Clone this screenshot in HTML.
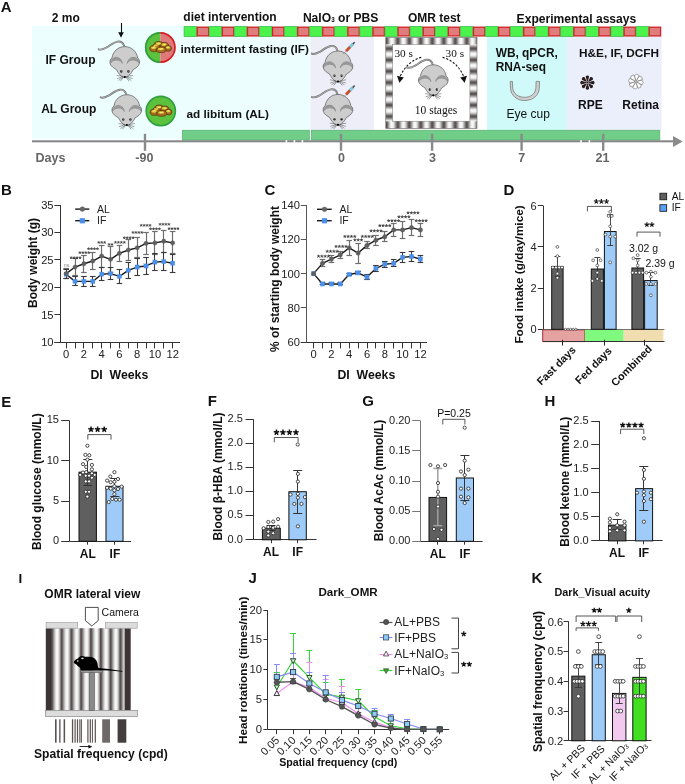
<!DOCTYPE html><html><head><meta charset="utf-8"><title>Figure</title><style>html,body{margin:0;padding:0;background:#fff;}svg{display:block;will-change:transform;}</style></head><body>
<svg width="685" height="784" viewBox="0 0 685 784" font-family="&quot;Liberation Sans&quot;, sans-serif">

<defs>
 <linearGradient id="cylV" x1="0" y1="0" x2="1" y2="0">
  <stop offset="0" stop-color="#4a4242"/>
  <stop offset="0.14" stop-color="#7e7878"/>
  <stop offset="0.36" stop-color="#e6e6e6"/>
  <stop offset="0.5" stop-color="#ffffff"/>
  <stop offset="0.66" stop-color="#e2e2e2"/>
  <stop offset="0.88" stop-color="#7e7878"/>
  <stop offset="1" stop-color="#4a4242"/>
 </linearGradient>
 <linearGradient id="cylH" x1="0" y1="0" x2="0" y2="1">
  <stop offset="0" stop-color="#4a4242"/>
  <stop offset="0.14" stop-color="#7e7878"/>
  <stop offset="0.36" stop-color="#e6e6e6"/>
  <stop offset="0.5" stop-color="#ffffff"/>
  <stop offset="0.66" stop-color="#e2e2e2"/>
  <stop offset="0.88" stop-color="#7e7878"/>
  <stop offset="1" stop-color="#4a4242"/>
 </linearGradient>
 <linearGradient id="drum" x1="0" y1="0" x2="1" y2="0">
  <stop offset="0" stop-color="#2e2626"/>
  <stop offset="0.05" stop-color="#5e5858"/>
  <stop offset="0.2" stop-color="#a09e9e"/>
  <stop offset="0.38" stop-color="#e4e4e4"/>
  <stop offset="0.52" stop-color="#ffffff"/>
  <stop offset="0.68" stop-color="#e6e6e6"/>
  <stop offset="0.88" stop-color="#8e8a8a"/>
  <stop offset="0.96" stop-color="#4a4444"/>
  <stop offset="1" stop-color="#2e2626"/>
 </linearGradient>
 <pattern id="pV" x="386.2" y="0" width="11.5" height="20" patternUnits="userSpaceOnUse">
  <rect x="0" y="0" width="11.5" height="20" fill="url(#cylV)"/>
 </pattern>
 <pattern id="pH" x="0" y="37.3" width="20" height="11.3" patternUnits="userSpaceOnUse">
  <rect x="0" y="0" width="20" height="11.3" fill="url(#cylH)"/>
 </pattern>
 <pattern id="pDrum" x="51.9" y="0" width="9.8" height="20" patternUnits="userSpaceOnUse">
  <rect x="0" y="0" width="9.8" height="20" fill="url(#drum)"/>
 </pattern>
 <g id="mouse">
  <path d="M3.6 11.2 C6 12.6 9 10.8 12 9.2 C15.5 7.2 18.6 4.2 22.6 3.6 C26 3.1 28.4 5.2 29.4 8.6" fill="none" stroke="#6a6a6a" stroke-width="1.9" stroke-linecap="round"/>
  <path d="M3.6 11.2 C6 12.6 9 10.8 12 9.2 C15.5 7.2 18.6 4.2 22.6 3.6 C26 3.1 28.4 5.2 29.4 8.6" fill="none" stroke="#cfcfcf" stroke-width="0.7" stroke-linecap="round"/>
  <path d="M29.8 8.6 C23 8.6 17.8 13.6 17 20 C15.2 21 14.6 23.4 15.2 25.6 C16 28.6 19 30.2 21.4 31.6 C23.4 35.6 26.4 39.2 29.8 39.6 C33.2 39.2 36.2 35.6 38.2 31.6 C40.6 30.2 43.6 28.6 44.4 25.6 C45 23.4 44.4 21 42.6 20 C41.8 13.6 36.6 8.6 29.8 8.6 Z" fill="#cdcdcd" stroke="#5e5e5e" stroke-width="0.75"/>
  <path d="M15.8 25.2 C16.4 21.6 18.6 19.8 21.4 19.8 C24.4 19.9 26.6 22.2 27.2 25.4 C26 23.6 24 22.4 21.6 22.4 C19 22.4 17 23.6 15.8 25.2 Z" fill="#979797"/>
  <path d="M43.8 25.2 C43.2 21.6 41 19.8 38.2 19.8 C35.2 19.9 33 22.2 32.4 25.4 C33.6 23.6 35.6 22.4 38 22.4 C40.6 22.4 42.6 23.6 43.8 25.2 Z" fill="#979797"/>
  <path d="M15.4 25.2 C15.8 21.4 18.4 19.4 21.4 19.4 C24.6 19.5 27 22 27.4 25.6" fill="none" stroke="#6a6a6a" stroke-width="0.6"/>
  <path d="M44.2 25.2 C43.8 21.4 41.2 19.4 38.2 19.4 C35 19.5 32.6 22 32.2 25.6" fill="none" stroke="#6a6a6a" stroke-width="0.6"/>
  <ellipse cx="26.3" cy="33.4" rx="1.1" ry="1.3" fill="#222"/>
  <ellipse cx="33.4" cy="33.4" rx="1.1" ry="1.3" fill="#222"/>
  <circle cx="26.6" cy="33" r="0.4" fill="#fff"/>
  <circle cx="33.7" cy="33" r="0.4" fill="#fff"/>
  <ellipse cx="29.8" cy="39" rx="1.2" ry="1" fill="#000"/>
  <g stroke="#555" stroke-width="0.55" fill="none">
   <path d="M28 38.4 L21.6 37.4 M28 38.8 L22 40.6 M28.4 39.2 L23.4 42.4 M28.6 39.4 L25.4 43.2"/>
   <path d="M31.6 38.4 L38 37.4 M31.6 38.8 L37.6 40.6 M31.2 39.2 L36.2 42.4 M31 39.4 L34.2 43.2"/>
  </g>
 </g>
 <g id="food">
  <ellipse cx="-6.5" cy="1.8" rx="4.4" ry="3.2" fill="#a86a20" stroke="#4a2c0a" stroke-width="0.6"/>
  <ellipse cx="-1.8" cy="-2.4" rx="4.4" ry="3.0" fill="#a86a20" stroke="#4a2c0a" stroke-width="0.6"/>
  <ellipse cx="3.8" cy="-1.4" rx="4.2" ry="3.0" fill="#a86a20" stroke="#4a2c0a" stroke-width="0.6"/>
  <ellipse cx="7.6" cy="1.6" rx="3.4" ry="2.9" fill="#a86a20" stroke="#4a2c0a" stroke-width="0.6"/>
  <ellipse cx="0.6" cy="3.0" rx="5.0" ry="2.9" fill="#a86a20" stroke="#4a2c0a" stroke-width="0.6"/>
  <ellipse cx="-4.5" cy="-0.5" rx="3.5" ry="2.5" fill="#a86a20" stroke="#4a2c0a" stroke-width="0.6"/>
  <ellipse cx="-6.9" cy="1.0" rx="2.69" ry="1.41" fill="#dccb38"/>
  <ellipse cx="-2.2" cy="-3.2" rx="2.69" ry="1.32" fill="#dccb38"/>
  <ellipse cx="3.4" cy="-2.2" rx="2.57" ry="1.32" fill="#dccb38"/>
  <ellipse cx="7.199999999999999" cy="0.8" rx="2.08" ry="1.27" fill="#dccb38"/>
  <ellipse cx="0.19999999999999996" cy="2.2" rx="3.06" ry="1.27" fill="#dccb38"/>
  <ellipse cx="-4.9" cy="-1.3" rx="2.14" ry="1.10" fill="#dccb38"/>
  <path d="M-8 0.8 L-5.6 -0.2 M-3 -2.8 L-0.6 -3.4 M2.6 -2 L5 -2.6 M-1 2.4 L2 1.8 M6.6 0.8 L8.6 0.4" stroke="#f8f29a" stroke-width="0.9"/>
 </g>
</defs>

<rect x="0.00" y="0.00" width="685.00" height="784.00" fill="#ffffff"/>
<text x="0.80" y="11.60" font-size="15" font-weight="bold" fill="#111">A</text>
<text x="51.80" y="22.40" font-size="12" font-weight="bold" fill="#111">2 mo</text>
<rect x="32.00" y="26.00" width="278.70" height="113.20" fill="#edfefe"/>
<rect x="310.70" y="36.60" width="63.10" height="93.80" fill="#eeeef9"/>
<rect x="486.90" y="36.60" width="79.90" height="93.80" fill="#d0fafa"/>
<rect x="566.80" y="36.60" width="94.70" height="93.80" fill="#ebeefb"/>
<rect x="184.10" y="26.60" width="12.56" height="9.90" fill="#4cf24c" stroke="#3ec04a" stroke-width="0.8"/>
<rect x="197.26" y="27.20" width="11.36" height="8.70" fill="#e07c7c" stroke="#d0222a" stroke-width="1.3"/>
<rect x="209.21" y="26.60" width="12.56" height="9.90" fill="#4cf24c" stroke="#3ec04a" stroke-width="0.8"/>
<rect x="222.37" y="27.20" width="11.36" height="8.70" fill="#e07c7c" stroke="#d0222a" stroke-width="1.3"/>
<rect x="234.32" y="26.60" width="12.56" height="9.90" fill="#4cf24c" stroke="#3ec04a" stroke-width="0.8"/>
<rect x="247.48" y="27.20" width="11.36" height="8.70" fill="#e07c7c" stroke="#d0222a" stroke-width="1.3"/>
<rect x="259.43" y="26.60" width="12.56" height="9.90" fill="#4cf24c" stroke="#3ec04a" stroke-width="0.8"/>
<rect x="272.59" y="27.20" width="11.36" height="8.70" fill="#e07c7c" stroke="#d0222a" stroke-width="1.3"/>
<rect x="284.54" y="26.60" width="12.56" height="9.90" fill="#4cf24c" stroke="#3ec04a" stroke-width="0.8"/>
<rect x="297.70" y="27.20" width="11.36" height="8.70" fill="#e07c7c" stroke="#d0222a" stroke-width="1.3"/>
<rect x="309.65" y="26.60" width="12.56" height="9.90" fill="#4cf24c" stroke="#3ec04a" stroke-width="0.8"/>
<rect x="322.81" y="27.20" width="11.36" height="8.70" fill="#e07c7c" stroke="#d0222a" stroke-width="1.3"/>
<rect x="334.76" y="26.60" width="12.56" height="9.90" fill="#4cf24c" stroke="#3ec04a" stroke-width="0.8"/>
<rect x="347.92" y="27.20" width="11.36" height="8.70" fill="#e07c7c" stroke="#d0222a" stroke-width="1.3"/>
<rect x="359.87" y="26.60" width="12.56" height="9.90" fill="#4cf24c" stroke="#3ec04a" stroke-width="0.8"/>
<rect x="373.03" y="27.20" width="11.36" height="8.70" fill="#e07c7c" stroke="#d0222a" stroke-width="1.3"/>
<rect x="384.98" y="26.60" width="12.56" height="9.90" fill="#4cf24c" stroke="#3ec04a" stroke-width="0.8"/>
<rect x="398.14" y="27.20" width="11.36" height="8.70" fill="#e07c7c" stroke="#d0222a" stroke-width="1.3"/>
<rect x="410.09" y="26.60" width="12.56" height="9.90" fill="#4cf24c" stroke="#3ec04a" stroke-width="0.8"/>
<rect x="423.25" y="27.20" width="11.36" height="8.70" fill="#e07c7c" stroke="#d0222a" stroke-width="1.3"/>
<rect x="435.21" y="26.60" width="12.56" height="9.90" fill="#4cf24c" stroke="#3ec04a" stroke-width="0.8"/>
<rect x="448.36" y="27.20" width="11.36" height="8.70" fill="#e07c7c" stroke="#d0222a" stroke-width="1.3"/>
<rect x="460.32" y="26.60" width="12.56" height="9.90" fill="#4cf24c" stroke="#3ec04a" stroke-width="0.8"/>
<rect x="473.47" y="27.20" width="11.36" height="8.70" fill="#e07c7c" stroke="#d0222a" stroke-width="1.3"/>
<rect x="485.43" y="26.60" width="12.56" height="9.90" fill="#4cf24c" stroke="#3ec04a" stroke-width="0.8"/>
<rect x="498.58" y="27.20" width="11.36" height="8.70" fill="#e07c7c" stroke="#d0222a" stroke-width="1.3"/>
<rect x="510.54" y="26.60" width="12.56" height="9.90" fill="#4cf24c" stroke="#3ec04a" stroke-width="0.8"/>
<rect x="523.69" y="27.20" width="11.36" height="8.70" fill="#e07c7c" stroke="#d0222a" stroke-width="1.3"/>
<rect x="535.65" y="26.60" width="12.56" height="9.90" fill="#4cf24c" stroke="#3ec04a" stroke-width="0.8"/>
<rect x="548.80" y="27.20" width="11.36" height="8.70" fill="#e07c7c" stroke="#d0222a" stroke-width="1.3"/>
<rect x="560.76" y="26.60" width="12.56" height="9.90" fill="#4cf24c" stroke="#3ec04a" stroke-width="0.8"/>
<rect x="573.91" y="27.20" width="11.36" height="8.70" fill="#e07c7c" stroke="#d0222a" stroke-width="1.3"/>
<rect x="585.87" y="26.60" width="12.56" height="9.90" fill="#4cf24c" stroke="#3ec04a" stroke-width="0.8"/>
<rect x="599.02" y="27.20" width="11.36" height="8.70" fill="#e07c7c" stroke="#d0222a" stroke-width="1.3"/>
<rect x="610.98" y="26.60" width="12.56" height="9.90" fill="#4cf24c" stroke="#3ec04a" stroke-width="0.8"/>
<rect x="624.13" y="27.20" width="11.36" height="8.70" fill="#e07c7c" stroke="#d0222a" stroke-width="1.3"/>
<rect x="636.09" y="26.60" width="12.56" height="9.90" fill="#4cf24c" stroke="#3ec04a" stroke-width="0.8"/>
<rect x="649.24" y="27.20" width="11.36" height="8.70" fill="#e07c7c" stroke="#d0222a" stroke-width="1.3"/>
<text x="183.30" y="20.80" font-size="12" font-weight="bold" fill="#111">diet intervention</text>
<text x="302.90" y="21.90" font-size="12.1" font-weight="bold" fill="#111">NaIO<tspan font-size="6.3">3</tspan> or PBS</text>
<text x="407.90" y="22.10" font-size="12" font-weight="bold" fill="#111">OMR test</text>
<text x="516.60" y="23.20" font-size="12.1" font-weight="bold" fill="#111">Experimental assays</text>
<line x1="121.50" y1="23.00" x2="121.50" y2="34.00" stroke="#111" stroke-width="1.1"/>
<path d="M118.2 32.2 L121 37.8 L123.8 32.2 Z" fill="#111"/>
<text x="45.50" y="64.20" font-size="12" font-weight="bold" fill="#111">IF Group</text>
<text x="41.20" y="112.80" font-size="12" font-weight="bold" fill="#111">AL Group</text>
<text x="180.50" y="53.00" font-size="11.8" font-weight="bold" fill="#111">intermittent fasting (IF)</text>
<text x="186.40" y="118.20" font-size="11.8" font-weight="bold" fill="#111">ad libitum (AL)</text>
<use href="#mouse" x="95" y="38"/>
<use href="#mouse" x="97" y="86.1"/>
<use href="#mouse" x="308.2" y="42.4"/>
<use href="#mouse" x="308.2" y="85.8"/>
<g><line x1="343.2" y1="54.00" x2="346.4" y2="50.80" stroke="#888" stroke-width="0.7"/><path d="M347.11 51.86 L350.91 47.86 L349.09 46.14 L345.29 50.14 Z" fill="#d44a1c" stroke="#7a3020" stroke-width="0.35"/><path d="M350.90 47.87 L353.80 44.87 L352.00 43.13 L349.10 46.13 Z" fill="#7cd0e0" stroke="#4a7a8a" stroke-width="0.35"/><path d="M353.41 44.48 L355.11 42.68 L354.09 41.72 L352.39 43.52 Z" fill="#3a3a4a"/></g>
<g><line x1="343.2" y1="97.40" x2="346.4" y2="94.20" stroke="#888" stroke-width="0.7"/><path d="M347.11 95.26 L350.91 91.26 L349.09 89.54 L345.29 93.54 Z" fill="#d44a1c" stroke="#7a3020" stroke-width="0.35"/><path d="M350.90 91.27 L353.80 88.27 L352.00 86.53 L349.10 89.53 Z" fill="#7cd0e0" stroke="#4a7a8a" stroke-width="0.35"/><path d="M353.41 87.88 L355.11 86.08 L354.09 85.12 L352.39 86.92 Z" fill="#3a3a4a"/></g>
<g><path d="M160.3 32.1 A15.4 15.4 0 0 0 160.3 62.9 Z" fill="#5cc23e"/><path d="M160.3 32.1 A15.4 15.4 0 0 1 160.3 62.9 Z" fill="#e07a7a"/><path d="M160.3 32.9 A14.6 14.6 0 0 0 160.3 62.1" fill="none" stroke="#2f9e3e" stroke-width="1.6"/><path d="M160.3 32.9 A14.6 14.6 0 0 1 160.3 62.1" fill="none" stroke="#d42026" stroke-width="1.6"/></g>
<use href="#food" x="160.6" y="46.8"/>
<circle cx="160.8" cy="111" r="14.6" fill="#5cc23e" stroke="#2f9e3e" stroke-width="1.6"/>
<use href="#food" x="161" y="110.4"/>
<rect x="385.50" y="37.30" width="91.70" height="91.30" fill="#ffffff"/>
<rect x="385.80" y="37.60" width="91.20" height="7.00" fill="url(#pV)"/>
<rect x="385.80" y="121.20" width="91.20" height="7.20" fill="url(#pV)"/>
<rect x="385.80" y="44.60" width="6.90" height="76.60" fill="url(#pH)"/>
<rect x="469.90" y="44.60" width="7.10" height="76.60" fill="url(#pH)"/>
<rect x="385.80" y="37.60" width="91.20" height="90.80" fill="none" stroke="#6a6262" stroke-width="0.6"/>
<rect x="392.70" y="44.60" width="77.20" height="76.60" fill="none" stroke="#777" stroke-width="0.5"/>
<text x="394.40" y="56.90" font-size="11.3" font-family='"Liberation Serif", serif' fill="#111">30 s</text>
<text x="445.60" y="56.90" font-size="11.3" font-family='"Liberation Serif", serif' fill="#111">30 s</text>
<text x="414.80" y="114.00" font-size="11.5" font-family='"Liberation Serif", serif' fill="#111">10 stages</text>
<use href="#mouse" x="403.5" y="56.2"/>
<path d="M421.2 57.4 C413 59.5 404.5 66 400.2 76.5" fill="none" stroke="#111" stroke-width="1.1" stroke-dasharray="2.2 1.6"/>
<path d="M397 75.8 L399.4 82.8 L403.8 77.4 Z" fill="#111"/>
<path d="M442.6 57.4 C451 59.5 459.5 66 463.6 76.5" fill="none" stroke="#111" stroke-width="1.1" stroke-dasharray="2.2 1.6"/>
<path d="M467 75.8 L464.6 82.8 L460.2 77.4 Z" fill="#111"/>
<text x="495.70" y="57.30" font-size="11.9" font-weight="bold" fill="#111">WB, qPCR,</text>
<text x="495.70" y="71.40" font-size="11.9" font-weight="bold" fill="#111">RNA-seq</text>
<path d="M510.2 81.4 L510.5 88.5 C511.1 95.5 517 100.5 524.5 100.5 C532.5 100.5 538.8 96 539.3 88 L539.5 81.4 L536.1 81.4 L535.9 88 C535.3 94 530.5 97.3 524.5 97.3 C518 97.3 513.3 93.5 512.7 88 L512.4 81.4 Z" fill="#cfcfcf" stroke="#7a7a7a" stroke-width="0.8"/>
<text x="506.60" y="117.50" font-size="12" fill="#111">Eye cup</text>
<text x="579.00" y="57.10" font-size="11.8" font-weight="bold" fill="#111">H&amp;E, IF, DCFH</text>
<g><path d="M-0.4 -1.3 L-1.8 -6.0 Q0 -8.4 1.8 -6.0 L0.4 -1.3 Z" transform="translate(587.4 82.6) rotate(0)" fill="#2a1c1c"/><path d="M-0.4 -1.3 L-1.8 -6.0 Q0 -8.4 1.8 -6.0 L0.4 -1.3 Z" transform="translate(587.4 82.6) rotate(45)" fill="#2a1c1c"/><path d="M-0.4 -1.3 L-1.8 -6.0 Q0 -8.4 1.8 -6.0 L0.4 -1.3 Z" transform="translate(587.4 82.6) rotate(90)" fill="#2a1c1c"/><path d="M-0.4 -1.3 L-1.8 -6.0 Q0 -8.4 1.8 -6.0 L0.4 -1.3 Z" transform="translate(587.4 82.6) rotate(135)" fill="#2a1c1c"/><path d="M-0.4 -1.3 L-1.8 -6.0 Q0 -8.4 1.8 -6.0 L0.4 -1.3 Z" transform="translate(587.4 82.6) rotate(180)" fill="#2a1c1c"/><path d="M-0.4 -1.3 L-1.8 -6.0 Q0 -8.4 1.8 -6.0 L0.4 -1.3 Z" transform="translate(587.4 82.6) rotate(225)" fill="#2a1c1c"/><path d="M-0.4 -1.3 L-1.8 -6.0 Q0 -8.4 1.8 -6.0 L0.4 -1.3 Z" transform="translate(587.4 82.6) rotate(270)" fill="#2a1c1c"/><path d="M-0.4 -1.3 L-1.8 -6.0 Q0 -8.4 1.8 -6.0 L0.4 -1.3 Z" transform="translate(587.4 82.6) rotate(315)" fill="#2a1c1c"/><circle cx="587.4" cy="82.6" r="1.0" fill="#2a1c1c"/></g>
<g><path d="M-0.4 -1.2 L-2.3 -5.8 Q-0.6 -8.6 2.3 -6.6 L0.6 -1.2 Z" transform="translate(635.9 81.6) rotate(8)" fill="#fff" stroke="#6a6a6a" stroke-width="0.55"/><path d="M-0.4 -1.2 L-2.3 -5.8 Q-0.6 -8.6 2.3 -6.6 L0.6 -1.2 Z" transform="translate(635.9 81.6) rotate(53)" fill="#fff" stroke="#6a6a6a" stroke-width="0.55"/><path d="M-0.4 -1.2 L-2.3 -5.8 Q-0.6 -8.6 2.3 -6.6 L0.6 -1.2 Z" transform="translate(635.9 81.6) rotate(98)" fill="#fff" stroke="#6a6a6a" stroke-width="0.55"/><path d="M-0.4 -1.2 L-2.3 -5.8 Q-0.6 -8.6 2.3 -6.6 L0.6 -1.2 Z" transform="translate(635.9 81.6) rotate(143)" fill="#fff" stroke="#6a6a6a" stroke-width="0.55"/><path d="M-0.4 -1.2 L-2.3 -5.8 Q-0.6 -8.6 2.3 -6.6 L0.6 -1.2 Z" transform="translate(635.9 81.6) rotate(188)" fill="#fff" stroke="#6a6a6a" stroke-width="0.55"/><path d="M-0.4 -1.2 L-2.3 -5.8 Q-0.6 -8.6 2.3 -6.6 L0.6 -1.2 Z" transform="translate(635.9 81.6) rotate(233)" fill="#fff" stroke="#6a6a6a" stroke-width="0.55"/><path d="M-0.4 -1.2 L-2.3 -5.8 Q-0.6 -8.6 2.3 -6.6 L0.6 -1.2 Z" transform="translate(635.9 81.6) rotate(278)" fill="#fff" stroke="#6a6a6a" stroke-width="0.55"/><path d="M-0.4 -1.2 L-2.3 -5.8 Q-0.6 -8.6 2.3 -6.6 L0.6 -1.2 Z" transform="translate(635.9 81.6) rotate(323)" fill="#fff" stroke="#6a6a6a" stroke-width="0.55"/><circle cx="635.9" cy="81.6" r="0.6" fill="#888"/></g>
<text x="578.00" y="108.70" font-size="12" font-weight="bold" fill="#111">RPE</text>
<text x="622.30" y="108.70" font-size="12" font-weight="bold" fill="#111">Retina</text>
<rect x="182.40" y="130.30" width="126.90" height="9.80" fill="#70ce88" stroke="#5cb676" stroke-width="0.8"/>
<rect x="311.50" y="130.30" width="348.30" height="9.80" fill="#70ce88" stroke="#5cb676" stroke-width="0.8"/>
<rect x="32.00" y="140.30" width="642.00" height="2.00" fill="#858585"/>
<path d="M673 136 L682.6 141.5 L673 147 Z" fill="#8a8a8a"/>
<rect x="285.60" y="140.20" width="1.60" height="2.60" fill="#ffffff"/>
<rect x="293.60" y="140.20" width="1.60" height="2.60" fill="#ffffff"/>
<rect x="301.60" y="140.20" width="1.60" height="2.60" fill="#ffffff"/>
<rect x="580.20" y="140.20" width="1.60" height="2.60" fill="#ffffff"/>
<rect x="588.60" y="140.20" width="1.60" height="2.60" fill="#ffffff"/>
<rect x="143.80" y="133.80" width="2.40" height="17.00" fill="#8a8a8a"/>
<rect x="339.80" y="133.80" width="2.40" height="17.00" fill="#8a8a8a"/>
<rect x="430.90" y="133.80" width="2.40" height="17.00" fill="#8a8a8a"/>
<rect x="520.40" y="133.80" width="2.40" height="17.00" fill="#8a8a8a"/>
<rect x="602.00" y="133.80" width="2.40" height="17.00" fill="#8a8a8a"/>
<text x="35.60" y="162.00" font-size="12.5" font-weight="bold" fill="#666">Days</text>
<text x="144.40" y="162.00" font-size="12.5" font-weight="bold" text-anchor="middle" fill="#666">-90</text>
<text x="341.60" y="162.00" font-size="12.5" font-weight="bold" text-anchor="middle" fill="#666">0</text>
<text x="432.40" y="162.00" font-size="12.5" font-weight="bold" text-anchor="middle" fill="#666">3</text>
<text x="521.80" y="162.00" font-size="12.5" font-weight="bold" text-anchor="middle" fill="#666">7</text>
<text x="602.40" y="162.00" font-size="12.5" font-weight="bold" text-anchor="middle" fill="#666">21</text>
<text x="1.00" y="195.10" font-size="15" font-weight="bold" fill="#111">B</text>
<line x1="60.50" y1="205.00" x2="60.50" y2="342.30" stroke="#333" stroke-width="1"/>
<line x1="54.40" y1="205.50" x2="60.40" y2="205.50" stroke="#333" stroke-width="1"/>
<text x="53.60" y="209.00" font-size="11.2" text-anchor="end" fill="#222">35</text>
<line x1="54.40" y1="232.50" x2="60.40" y2="232.50" stroke="#333" stroke-width="1"/>
<text x="53.60" y="236.46" font-size="11.2" text-anchor="end" fill="#222">30</text>
<line x1="54.40" y1="259.50" x2="60.40" y2="259.50" stroke="#333" stroke-width="1"/>
<text x="53.60" y="263.92" font-size="11.2" text-anchor="end" fill="#222">25</text>
<line x1="54.40" y1="287.50" x2="60.40" y2="287.50" stroke="#333" stroke-width="1"/>
<text x="53.60" y="291.38" font-size="11.2" text-anchor="end" fill="#222">20</text>
<line x1="54.40" y1="314.50" x2="60.40" y2="314.50" stroke="#333" stroke-width="1"/>
<text x="53.60" y="318.84" font-size="11.2" text-anchor="end" fill="#222">15</text>
<line x1="54.40" y1="342.50" x2="60.40" y2="342.50" stroke="#333" stroke-width="1"/>
<text x="53.60" y="346.30" font-size="11.2" text-anchor="end" fill="#222">10</text>
<line x1="54.40" y1="342.50" x2="180.00" y2="342.50" stroke="#333" stroke-width="1"/>
<line x1="66.50" y1="342.30" x2="66.50" y2="348.40" stroke="#333" stroke-width="1"/>
<text x="66.20" y="357.80" font-size="11.2" text-anchor="middle" fill="#222">0</text>
<line x1="75.50" y1="342.30" x2="75.50" y2="348.40" stroke="#333" stroke-width="1"/>
<line x1="83.50" y1="342.30" x2="83.50" y2="348.40" stroke="#333" stroke-width="1"/>
<text x="83.94" y="357.80" font-size="11.2" text-anchor="middle" fill="#222">2</text>
<line x1="92.50" y1="342.30" x2="92.50" y2="348.40" stroke="#333" stroke-width="1"/>
<line x1="101.50" y1="342.30" x2="101.50" y2="348.40" stroke="#333" stroke-width="1"/>
<text x="101.68" y="357.80" font-size="11.2" text-anchor="middle" fill="#222">4</text>
<line x1="110.50" y1="342.30" x2="110.50" y2="348.40" stroke="#333" stroke-width="1"/>
<line x1="119.50" y1="342.30" x2="119.50" y2="348.40" stroke="#333" stroke-width="1"/>
<text x="119.42" y="357.80" font-size="11.2" text-anchor="middle" fill="#222">6</text>
<line x1="128.50" y1="342.30" x2="128.50" y2="348.40" stroke="#333" stroke-width="1"/>
<line x1="137.50" y1="342.30" x2="137.50" y2="348.40" stroke="#333" stroke-width="1"/>
<text x="137.16" y="357.80" font-size="11.2" text-anchor="middle" fill="#222">8</text>
<line x1="146.50" y1="342.30" x2="146.50" y2="348.40" stroke="#333" stroke-width="1"/>
<line x1="154.50" y1="342.30" x2="154.50" y2="348.40" stroke="#333" stroke-width="1"/>
<text x="154.90" y="357.80" font-size="11.2" text-anchor="middle" fill="#222">10</text>
<line x1="163.50" y1="342.30" x2="163.50" y2="348.40" stroke="#333" stroke-width="1"/>
<line x1="172.50" y1="342.30" x2="172.50" y2="348.40" stroke="#333" stroke-width="1"/>
<text x="172.64" y="357.80" font-size="11.2" text-anchor="middle" fill="#222">12</text>
<text x="90.40" y="378.80" font-size="12.3" font-weight="bold" fill="#111">DI&#160;&#160;Weeks</text>
<text x="37.20" y="308.00" font-size="12" font-weight="bold" transform="rotate(-90 37.20 308.00)" fill="#111">Body weight (g)</text>
<line x1="66.50" y1="278.59" x2="66.50" y2="268.71" stroke="#6e6e6e" stroke-width="1.2"/>
<line x1="63.40" y1="268.50" x2="69.00" y2="268.50" stroke="#6e6e6e" stroke-width="1.2"/>
<line x1="63.40" y1="278.50" x2="69.00" y2="278.50" stroke="#6e6e6e" stroke-width="1.2"/>
<line x1="66.50" y1="278.59" x2="66.50" y2="269.81" stroke="#3a3a3a" stroke-width="1.1"/>
<line x1="63.40" y1="269.50" x2="69.00" y2="269.50" stroke="#3a3a3a" stroke-width="1.1"/>
<line x1="63.40" y1="278.50" x2="69.00" y2="278.50" stroke="#3a3a3a" stroke-width="1.1"/>
<line x1="75.50" y1="275.85" x2="75.50" y2="258.27" stroke="#6e6e6e" stroke-width="1.2"/>
<line x1="72.27" y1="258.50" x2="77.87" y2="258.50" stroke="#6e6e6e" stroke-width="1.2"/>
<line x1="72.27" y1="275.50" x2="77.87" y2="275.50" stroke="#6e6e6e" stroke-width="1.2"/>
<line x1="75.50" y1="285.73" x2="75.50" y2="276.95" stroke="#3a3a3a" stroke-width="1.1"/>
<line x1="72.27" y1="276.50" x2="77.87" y2="276.50" stroke="#3a3a3a" stroke-width="1.1"/>
<line x1="72.27" y1="285.50" x2="77.87" y2="285.50" stroke="#3a3a3a" stroke-width="1.1"/>
<line x1="83.50" y1="272.00" x2="83.50" y2="255.53" stroke="#6e6e6e" stroke-width="1.2"/>
<line x1="81.14" y1="255.50" x2="86.74" y2="255.50" stroke="#6e6e6e" stroke-width="1.2"/>
<line x1="81.14" y1="272.50" x2="86.74" y2="272.50" stroke="#6e6e6e" stroke-width="1.2"/>
<line x1="83.50" y1="286.28" x2="83.50" y2="276.40" stroke="#3a3a3a" stroke-width="1.1"/>
<line x1="81.14" y1="276.50" x2="86.74" y2="276.50" stroke="#3a3a3a" stroke-width="1.1"/>
<line x1="81.14" y1="286.50" x2="86.74" y2="286.50" stroke="#3a3a3a" stroke-width="1.1"/>
<line x1="92.50" y1="269.26" x2="92.50" y2="252.78" stroke="#6e6e6e" stroke-width="1.2"/>
<line x1="90.01" y1="252.50" x2="95.61" y2="252.50" stroke="#6e6e6e" stroke-width="1.2"/>
<line x1="90.01" y1="269.50" x2="95.61" y2="269.50" stroke="#6e6e6e" stroke-width="1.2"/>
<line x1="92.50" y1="286.28" x2="92.50" y2="276.40" stroke="#3a3a3a" stroke-width="1.1"/>
<line x1="90.01" y1="276.50" x2="95.61" y2="276.50" stroke="#3a3a3a" stroke-width="1.1"/>
<line x1="90.01" y1="286.50" x2="95.61" y2="286.50" stroke="#3a3a3a" stroke-width="1.1"/>
<line x1="101.50" y1="267.06" x2="101.50" y2="245.09" stroke="#6e6e6e" stroke-width="1.2"/>
<line x1="98.88" y1="245.50" x2="104.48" y2="245.50" stroke="#6e6e6e" stroke-width="1.2"/>
<line x1="98.88" y1="267.50" x2="104.48" y2="267.50" stroke="#6e6e6e" stroke-width="1.2"/>
<line x1="101.50" y1="280.79" x2="101.50" y2="267.61" stroke="#3a3a3a" stroke-width="1.1"/>
<line x1="98.88" y1="267.50" x2="104.48" y2="267.50" stroke="#3a3a3a" stroke-width="1.1"/>
<line x1="98.88" y1="280.50" x2="104.48" y2="280.50" stroke="#3a3a3a" stroke-width="1.1"/>
<line x1="110.50" y1="272.00" x2="110.50" y2="246.74" stroke="#6e6e6e" stroke-width="1.2"/>
<line x1="107.75" y1="246.50" x2="113.35" y2="246.50" stroke="#6e6e6e" stroke-width="1.2"/>
<line x1="107.75" y1="272.50" x2="113.35" y2="272.50" stroke="#6e6e6e" stroke-width="1.2"/>
<line x1="110.50" y1="279.69" x2="110.50" y2="267.61" stroke="#3a3a3a" stroke-width="1.1"/>
<line x1="107.75" y1="267.50" x2="113.35" y2="267.50" stroke="#3a3a3a" stroke-width="1.1"/>
<line x1="107.75" y1="279.50" x2="113.35" y2="279.50" stroke="#3a3a3a" stroke-width="1.1"/>
<line x1="119.50" y1="261.57" x2="119.50" y2="245.09" stroke="#6e6e6e" stroke-width="1.2"/>
<line x1="116.62" y1="245.50" x2="122.22" y2="245.50" stroke="#6e6e6e" stroke-width="1.2"/>
<line x1="116.62" y1="261.50" x2="122.22" y2="261.50" stroke="#6e6e6e" stroke-width="1.2"/>
<line x1="119.50" y1="283.54" x2="119.50" y2="269.26" stroke="#3a3a3a" stroke-width="1.1"/>
<line x1="116.62" y1="269.50" x2="122.22" y2="269.50" stroke="#3a3a3a" stroke-width="1.1"/>
<line x1="116.62" y1="283.50" x2="122.22" y2="283.50" stroke="#3a3a3a" stroke-width="1.1"/>
<line x1="128.50" y1="260.47" x2="128.50" y2="239.60" stroke="#6e6e6e" stroke-width="1.2"/>
<line x1="125.49" y1="239.50" x2="131.09" y2="239.50" stroke="#6e6e6e" stroke-width="1.2"/>
<line x1="125.49" y1="260.50" x2="131.09" y2="260.50" stroke="#6e6e6e" stroke-width="1.2"/>
<line x1="128.50" y1="278.59" x2="128.50" y2="262.12" stroke="#3a3a3a" stroke-width="1.1"/>
<line x1="125.49" y1="262.50" x2="131.09" y2="262.50" stroke="#3a3a3a" stroke-width="1.1"/>
<line x1="125.49" y1="278.50" x2="131.09" y2="278.50" stroke="#3a3a3a" stroke-width="1.1"/>
<line x1="137.50" y1="257.72" x2="137.50" y2="237.95" stroke="#6e6e6e" stroke-width="1.2"/>
<line x1="134.36" y1="237.50" x2="139.96" y2="237.50" stroke="#6e6e6e" stroke-width="1.2"/>
<line x1="134.36" y1="257.50" x2="139.96" y2="257.50" stroke="#6e6e6e" stroke-width="1.2"/>
<line x1="137.50" y1="275.85" x2="137.50" y2="258.27" stroke="#3a3a3a" stroke-width="1.1"/>
<line x1="134.36" y1="258.50" x2="139.96" y2="258.50" stroke="#3a3a3a" stroke-width="1.1"/>
<line x1="134.36" y1="275.50" x2="139.96" y2="275.50" stroke="#3a3a3a" stroke-width="1.1"/>
<line x1="146.50" y1="254.43" x2="146.50" y2="232.46" stroke="#6e6e6e" stroke-width="1.2"/>
<line x1="143.23" y1="232.50" x2="148.83" y2="232.50" stroke="#6e6e6e" stroke-width="1.2"/>
<line x1="143.23" y1="254.50" x2="148.83" y2="254.50" stroke="#6e6e6e" stroke-width="1.2"/>
<line x1="146.50" y1="274.75" x2="146.50" y2="257.17" stroke="#3a3a3a" stroke-width="1.1"/>
<line x1="143.23" y1="257.50" x2="148.83" y2="257.50" stroke="#3a3a3a" stroke-width="1.1"/>
<line x1="143.23" y1="274.50" x2="148.83" y2="274.50" stroke="#3a3a3a" stroke-width="1.1"/>
<line x1="154.50" y1="254.43" x2="154.50" y2="231.36" stroke="#6e6e6e" stroke-width="1.2"/>
<line x1="152.10" y1="231.50" x2="157.70" y2="231.50" stroke="#6e6e6e" stroke-width="1.2"/>
<line x1="152.10" y1="254.50" x2="157.70" y2="254.50" stroke="#6e6e6e" stroke-width="1.2"/>
<line x1="154.50" y1="270.90" x2="154.50" y2="253.33" stroke="#3a3a3a" stroke-width="1.1"/>
<line x1="152.10" y1="253.50" x2="157.70" y2="253.50" stroke="#3a3a3a" stroke-width="1.1"/>
<line x1="152.10" y1="270.50" x2="157.70" y2="270.50" stroke="#3a3a3a" stroke-width="1.1"/>
<line x1="163.50" y1="252.23" x2="163.50" y2="230.26" stroke="#6e6e6e" stroke-width="1.2"/>
<line x1="160.97" y1="230.50" x2="166.57" y2="230.50" stroke="#6e6e6e" stroke-width="1.2"/>
<line x1="160.97" y1="252.50" x2="166.57" y2="252.50" stroke="#6e6e6e" stroke-width="1.2"/>
<line x1="163.50" y1="270.35" x2="163.50" y2="252.78" stroke="#3a3a3a" stroke-width="1.1"/>
<line x1="160.97" y1="252.50" x2="166.57" y2="252.50" stroke="#3a3a3a" stroke-width="1.1"/>
<line x1="160.97" y1="270.50" x2="166.57" y2="270.50" stroke="#3a3a3a" stroke-width="1.1"/>
<line x1="172.50" y1="253.88" x2="172.50" y2="231.91" stroke="#6e6e6e" stroke-width="1.2"/>
<line x1="169.84" y1="231.50" x2="175.44" y2="231.50" stroke="#6e6e6e" stroke-width="1.2"/>
<line x1="169.84" y1="253.50" x2="175.44" y2="253.50" stroke="#6e6e6e" stroke-width="1.2"/>
<line x1="172.50" y1="272.00" x2="172.50" y2="254.43" stroke="#3a3a3a" stroke-width="1.1"/>
<line x1="169.84" y1="254.50" x2="175.44" y2="254.50" stroke="#3a3a3a" stroke-width="1.1"/>
<line x1="169.84" y1="272.50" x2="175.44" y2="272.50" stroke="#3a3a3a" stroke-width="1.1"/>
<polyline points="66.20,273.65 75.07,267.06 83.94,263.76 92.81,261.02 101.68,256.08 110.55,259.37 119.42,253.33 128.29,250.03 137.16,247.84 146.03,243.44 154.90,242.89 163.77,241.25 172.64,242.89" fill="none" stroke="#1a1a1a" stroke-width="1.4" stroke-linejoin="round"/>
<polyline points="66.20,274.20 75.07,281.34 83.94,281.34 92.81,281.34 101.68,274.20 110.55,273.65 119.42,276.40 128.29,270.35 137.16,267.06 146.03,265.96 154.90,262.12 163.77,261.57 172.64,263.22" fill="none" stroke="#1a1a1a" stroke-width="1.4" stroke-linejoin="round"/>
<rect x="64.05" y="272.05" width="4.30" height="4.30" fill="#4a90ea" stroke="#4a90ea" stroke-width="0.2"/>
<circle cx="66.20" cy="273.65" r="2.15" fill="#606060" stroke="#555" stroke-width="0.4"/>
<rect x="72.92" y="279.19" width="4.30" height="4.30" fill="#4a90ea" stroke="#4a90ea" stroke-width="0.2"/>
<circle cx="75.07" cy="267.06" r="2.15" fill="#606060" stroke="#555" stroke-width="0.4"/>
<rect x="81.79" y="279.19" width="4.30" height="4.30" fill="#4a90ea" stroke="#4a90ea" stroke-width="0.2"/>
<circle cx="83.94" cy="263.76" r="2.15" fill="#606060" stroke="#555" stroke-width="0.4"/>
<rect x="90.66" y="279.19" width="4.30" height="4.30" fill="#4a90ea" stroke="#4a90ea" stroke-width="0.2"/>
<circle cx="92.81" cy="261.02" r="2.15" fill="#606060" stroke="#555" stroke-width="0.4"/>
<rect x="99.53" y="272.05" width="4.30" height="4.30" fill="#4a90ea" stroke="#4a90ea" stroke-width="0.2"/>
<circle cx="101.68" cy="256.08" r="2.15" fill="#606060" stroke="#555" stroke-width="0.4"/>
<rect x="108.40" y="271.50" width="4.30" height="4.30" fill="#4a90ea" stroke="#4a90ea" stroke-width="0.2"/>
<circle cx="110.55" cy="259.37" r="2.15" fill="#606060" stroke="#555" stroke-width="0.4"/>
<rect x="117.27" y="274.25" width="4.30" height="4.30" fill="#4a90ea" stroke="#4a90ea" stroke-width="0.2"/>
<circle cx="119.42" cy="253.33" r="2.15" fill="#606060" stroke="#555" stroke-width="0.4"/>
<rect x="126.14" y="268.20" width="4.30" height="4.30" fill="#4a90ea" stroke="#4a90ea" stroke-width="0.2"/>
<circle cx="128.29" cy="250.03" r="2.15" fill="#606060" stroke="#555" stroke-width="0.4"/>
<rect x="135.01" y="264.91" width="4.30" height="4.30" fill="#4a90ea" stroke="#4a90ea" stroke-width="0.2"/>
<circle cx="137.16" cy="247.84" r="2.15" fill="#606060" stroke="#555" stroke-width="0.4"/>
<rect x="143.88" y="263.81" width="4.30" height="4.30" fill="#4a90ea" stroke="#4a90ea" stroke-width="0.2"/>
<circle cx="146.03" cy="243.44" r="2.15" fill="#606060" stroke="#555" stroke-width="0.4"/>
<rect x="152.75" y="259.97" width="4.30" height="4.30" fill="#4a90ea" stroke="#4a90ea" stroke-width="0.2"/>
<circle cx="154.90" cy="242.89" r="2.15" fill="#606060" stroke="#555" stroke-width="0.4"/>
<rect x="161.62" y="259.42" width="4.30" height="4.30" fill="#4a90ea" stroke="#4a90ea" stroke-width="0.2"/>
<circle cx="163.77" cy="241.25" r="2.15" fill="#606060" stroke="#555" stroke-width="0.4"/>
<rect x="170.49" y="261.07" width="4.30" height="4.30" fill="#4a90ea" stroke="#4a90ea" stroke-width="0.2"/>
<circle cx="172.64" cy="242.89" r="2.15" fill="#606060" stroke="#555" stroke-width="0.4"/>
<text x="66.60" y="267.40" font-size="5.2" text-anchor="middle" fill="#888">ns</text>
<path d="M71.17 257.80 L71.17 256.35 M71.17 257.80 L72.55 257.35 M71.17 257.80 L72.03 258.97 M71.17 257.80 L70.32 258.97 M71.17 257.80 L69.80 257.35 " stroke="#2a2a2a" stroke-width="0.75" stroke-linecap="butt" fill="none"/>
<path d="M74.12 257.80 L74.12 256.35 M74.12 257.80 L75.50 257.35 M74.12 257.80 L74.98 258.97 M74.12 257.80 L73.27 258.97 M74.12 257.80 L72.75 257.35 " stroke="#2a2a2a" stroke-width="0.75" stroke-linecap="butt" fill="none"/>
<path d="M77.08 257.80 L77.08 256.35 M77.08 257.80 L78.45 257.35 M77.08 257.80 L77.93 258.97 M77.08 257.80 L76.22 258.97 M77.08 257.80 L75.70 257.35 " stroke="#2a2a2a" stroke-width="0.75" stroke-linecap="butt" fill="none"/>
<path d="M80.03 257.80 L80.03 256.35 M80.03 257.80 L81.40 257.35 M80.03 257.80 L80.88 258.97 M80.03 257.80 L79.17 258.97 M80.03 257.80 L78.65 257.35 " stroke="#2a2a2a" stroke-width="0.75" stroke-linecap="butt" fill="none"/>
<path d="M79.88 252.70 L79.88 251.25 M79.88 252.70 L81.25 252.25 M79.88 252.70 L80.73 253.87 M79.88 252.70 L79.02 253.87 M79.88 252.70 L78.50 252.25 " stroke="#2a2a2a" stroke-width="0.75" stroke-linecap="butt" fill="none"/>
<path d="M82.83 252.70 L82.83 251.25 M82.83 252.70 L84.20 252.25 M82.83 252.70 L83.68 253.87 M82.83 252.70 L81.97 253.87 M82.83 252.70 L81.45 252.25 " stroke="#2a2a2a" stroke-width="0.75" stroke-linecap="butt" fill="none"/>
<path d="M85.78 252.70 L85.78 251.25 M85.78 252.70 L87.15 252.25 M85.78 252.70 L86.63 253.87 M85.78 252.70 L84.92 253.87 M85.78 252.70 L84.40 252.25 " stroke="#2a2a2a" stroke-width="0.75" stroke-linecap="butt" fill="none"/>
<path d="M88.72 252.70 L88.72 251.25 M88.72 252.70 L90.10 252.25 M88.72 252.70 L89.58 253.87 M88.72 252.70 L87.87 253.87 M88.72 252.70 L87.35 252.25 " stroke="#2a2a2a" stroke-width="0.75" stroke-linecap="butt" fill="none"/>
<path d="M88.58 248.80 L88.58 247.35 M88.58 248.80 L89.95 248.35 M88.58 248.80 L89.43 249.97 M88.58 248.80 L87.72 249.97 M88.58 248.80 L87.20 248.35 " stroke="#2a2a2a" stroke-width="0.75" stroke-linecap="butt" fill="none"/>
<path d="M91.53 248.80 L91.53 247.35 M91.53 248.80 L92.90 248.35 M91.53 248.80 L92.38 249.97 M91.53 248.80 L90.67 249.97 M91.53 248.80 L90.15 248.35 " stroke="#2a2a2a" stroke-width="0.75" stroke-linecap="butt" fill="none"/>
<path d="M94.48 248.80 L94.48 247.35 M94.48 248.80 L95.85 248.35 M94.48 248.80 L95.33 249.97 M94.48 248.80 L93.62 249.97 M94.48 248.80 L93.10 248.35 " stroke="#2a2a2a" stroke-width="0.75" stroke-linecap="butt" fill="none"/>
<path d="M97.43 248.80 L97.43 247.35 M97.43 248.80 L98.80 248.35 M97.43 248.80 L98.28 249.97 M97.43 248.80 L96.57 249.97 M97.43 248.80 L96.05 248.35 " stroke="#2a2a2a" stroke-width="0.75" stroke-linecap="butt" fill="none"/>
<path d="M98.75 242.50 L98.75 241.05 M98.75 242.50 L100.13 242.05 M98.75 242.50 L99.60 243.67 M98.75 242.50 L97.90 243.67 M98.75 242.50 L97.37 242.05 " stroke="#2a2a2a" stroke-width="0.75" stroke-linecap="butt" fill="none"/>
<path d="M101.70 242.50 L101.70 241.05 M101.70 242.50 L103.08 242.05 M101.70 242.50 L102.55 243.67 M101.70 242.50 L100.85 243.67 M101.70 242.50 L100.32 242.05 " stroke="#2a2a2a" stroke-width="0.75" stroke-linecap="butt" fill="none"/>
<path d="M104.65 242.50 L104.65 241.05 M104.65 242.50 L106.03 242.05 M104.65 242.50 L105.50 243.67 M104.65 242.50 L103.80 243.67 M104.65 242.50 L103.27 242.05 " stroke="#2a2a2a" stroke-width="0.75" stroke-linecap="butt" fill="none"/>
<path d="M109.03 244.50 L109.03 243.05 M109.03 244.50 L110.40 244.05 M109.03 244.50 L109.88 245.67 M109.03 244.50 L108.17 245.67 M109.03 244.50 L107.65 244.05 " stroke="#2a2a2a" stroke-width="0.75" stroke-linecap="butt" fill="none"/>
<path d="M111.98 244.50 L111.98 243.05 M111.98 244.50 L113.35 244.05 M111.98 244.50 L112.83 245.67 M111.98 244.50 L111.12 245.67 M111.98 244.50 L110.60 244.05 " stroke="#2a2a2a" stroke-width="0.75" stroke-linecap="butt" fill="none"/>
<path d="M115.48 242.40 L115.48 240.95 M115.48 242.40 L116.85 241.95 M115.48 242.40 L116.33 243.57 M115.48 242.40 L114.62 243.57 M115.48 242.40 L114.10 241.95 " stroke="#2a2a2a" stroke-width="0.75" stroke-linecap="butt" fill="none"/>
<path d="M118.43 242.40 L118.43 240.95 M118.43 242.40 L119.80 241.95 M118.43 242.40 L119.28 243.57 M118.43 242.40 L117.57 243.57 M118.43 242.40 L117.05 241.95 " stroke="#2a2a2a" stroke-width="0.75" stroke-linecap="butt" fill="none"/>
<path d="M121.38 242.40 L121.38 240.95 M121.38 242.40 L122.75 241.95 M121.38 242.40 L122.23 243.57 M121.38 242.40 L120.52 243.57 M121.38 242.40 L120.00 241.95 " stroke="#2a2a2a" stroke-width="0.75" stroke-linecap="butt" fill="none"/>
<path d="M124.33 242.40 L124.33 240.95 M124.33 242.40 L125.70 241.95 M124.33 242.40 L125.18 243.57 M124.33 242.40 L123.47 243.57 M124.33 242.40 L122.95 241.95 " stroke="#2a2a2a" stroke-width="0.75" stroke-linecap="butt" fill="none"/>
<path d="M124.27 237.80 L124.27 236.35 M124.27 237.80 L125.65 237.35 M124.27 237.80 L125.13 238.97 M124.27 237.80 L123.42 238.97 M124.27 237.80 L122.90 237.35 " stroke="#2a2a2a" stroke-width="0.75" stroke-linecap="butt" fill="none"/>
<path d="M127.22 237.80 L127.22 236.35 M127.22 237.80 L128.60 237.35 M127.22 237.80 L128.08 238.97 M127.22 237.80 L126.37 238.97 M127.22 237.80 L125.85 237.35 " stroke="#2a2a2a" stroke-width="0.75" stroke-linecap="butt" fill="none"/>
<path d="M130.17 237.80 L130.17 236.35 M130.17 237.80 L131.55 237.35 M130.17 237.80 L131.03 238.97 M130.17 237.80 L129.32 238.97 M130.17 237.80 L128.80 237.35 " stroke="#2a2a2a" stroke-width="0.75" stroke-linecap="butt" fill="none"/>
<path d="M133.12 237.80 L133.12 236.35 M133.12 237.80 L134.50 237.35 M133.12 237.80 L133.98 238.97 M133.12 237.80 L132.27 238.97 M133.12 237.80 L131.75 237.35 " stroke="#2a2a2a" stroke-width="0.75" stroke-linecap="butt" fill="none"/>
<path d="M132.97 232.50 L132.97 231.05 M132.97 232.50 L134.35 232.05 M132.97 232.50 L133.83 233.67 M132.97 232.50 L132.12 233.67 M132.97 232.50 L131.60 232.05 " stroke="#2a2a2a" stroke-width="0.75" stroke-linecap="butt" fill="none"/>
<path d="M135.92 232.50 L135.92 231.05 M135.92 232.50 L137.30 232.05 M135.92 232.50 L136.78 233.67 M135.92 232.50 L135.07 233.67 M135.92 232.50 L134.55 232.05 " stroke="#2a2a2a" stroke-width="0.75" stroke-linecap="butt" fill="none"/>
<path d="M138.88 232.50 L138.88 231.05 M138.88 232.50 L140.25 232.05 M138.88 232.50 L139.73 233.67 M138.88 232.50 L138.02 233.67 M138.88 232.50 L137.50 232.05 " stroke="#2a2a2a" stroke-width="0.75" stroke-linecap="butt" fill="none"/>
<path d="M141.82 232.50 L141.82 231.05 M141.82 232.50 L143.20 232.05 M141.82 232.50 L142.68 233.67 M141.82 232.50 L140.97 233.67 M141.82 232.50 L140.45 232.05 " stroke="#2a2a2a" stroke-width="0.75" stroke-linecap="butt" fill="none"/>
<path d="M141.17 225.40 L141.17 223.95 M141.17 225.40 L142.55 224.95 M141.17 225.40 L142.03 226.57 M141.17 225.40 L140.32 226.57 M141.17 225.40 L139.80 224.95 " stroke="#2a2a2a" stroke-width="0.75" stroke-linecap="butt" fill="none"/>
<path d="M144.12 225.40 L144.12 223.95 M144.12 225.40 L145.50 224.95 M144.12 225.40 L144.98 226.57 M144.12 225.40 L143.27 226.57 M144.12 225.40 L142.75 224.95 " stroke="#2a2a2a" stroke-width="0.75" stroke-linecap="butt" fill="none"/>
<path d="M147.07 225.40 L147.07 223.95 M147.07 225.40 L148.45 224.95 M147.07 225.40 L147.93 226.57 M147.07 225.40 L146.22 226.57 M147.07 225.40 L145.70 224.95 " stroke="#2a2a2a" stroke-width="0.75" stroke-linecap="butt" fill="none"/>
<path d="M150.02 225.40 L150.02 223.95 M150.02 225.40 L151.40 224.95 M150.02 225.40 L150.88 226.57 M150.02 225.40 L149.17 226.57 M150.02 225.40 L148.65 224.95 " stroke="#2a2a2a" stroke-width="0.75" stroke-linecap="butt" fill="none"/>
<path d="M150.57 228.90 L150.57 227.45 M150.57 228.90 L151.95 228.45 M150.57 228.90 L151.43 230.07 M150.57 228.90 L149.72 230.07 M150.57 228.90 L149.20 228.45 " stroke="#2a2a2a" stroke-width="0.75" stroke-linecap="butt" fill="none"/>
<path d="M153.52 228.90 L153.52 227.45 M153.52 228.90 L154.90 228.45 M153.52 228.90 L154.38 230.07 M153.52 228.90 L152.67 230.07 M153.52 228.90 L152.15 228.45 " stroke="#2a2a2a" stroke-width="0.75" stroke-linecap="butt" fill="none"/>
<path d="M156.47 228.90 L156.47 227.45 M156.47 228.90 L157.85 228.45 M156.47 228.90 L157.33 230.07 M156.47 228.90 L155.62 230.07 M156.47 228.90 L155.10 228.45 " stroke="#2a2a2a" stroke-width="0.75" stroke-linecap="butt" fill="none"/>
<path d="M159.42 228.90 L159.42 227.45 M159.42 228.90 L160.80 228.45 M159.42 228.90 L160.28 230.07 M159.42 228.90 L158.57 230.07 M159.42 228.90 L158.05 228.45 " stroke="#2a2a2a" stroke-width="0.75" stroke-linecap="butt" fill="none"/>
<path d="M160.07 224.30 L160.07 222.85 M160.07 224.30 L161.45 223.85 M160.07 224.30 L160.93 225.47 M160.07 224.30 L159.22 225.47 M160.07 224.30 L158.70 223.85 " stroke="#2a2a2a" stroke-width="0.75" stroke-linecap="butt" fill="none"/>
<path d="M163.02 224.30 L163.02 222.85 M163.02 224.30 L164.40 223.85 M163.02 224.30 L163.88 225.47 M163.02 224.30 L162.17 225.47 M163.02 224.30 L161.65 223.85 " stroke="#2a2a2a" stroke-width="0.75" stroke-linecap="butt" fill="none"/>
<path d="M165.97 224.30 L165.97 222.85 M165.97 224.30 L167.35 223.85 M165.97 224.30 L166.83 225.47 M165.97 224.30 L165.12 225.47 M165.97 224.30 L164.60 223.85 " stroke="#2a2a2a" stroke-width="0.75" stroke-linecap="butt" fill="none"/>
<path d="M168.92 224.30 L168.92 222.85 M168.92 224.30 L170.30 223.85 M168.92 224.30 L169.78 225.47 M168.92 224.30 L168.07 225.47 M168.92 224.30 L167.55 223.85 " stroke="#2a2a2a" stroke-width="0.75" stroke-linecap="butt" fill="none"/>
<path d="M169.07 228.70 L169.07 227.25 M169.07 228.70 L170.45 228.25 M169.07 228.70 L169.93 229.87 M169.07 228.70 L168.22 229.87 M169.07 228.70 L167.70 228.25 " stroke="#2a2a2a" stroke-width="0.75" stroke-linecap="butt" fill="none"/>
<path d="M172.02 228.70 L172.02 227.25 M172.02 228.70 L173.40 228.25 M172.02 228.70 L172.88 229.87 M172.02 228.70 L171.17 229.87 M172.02 228.70 L170.65 228.25 " stroke="#2a2a2a" stroke-width="0.75" stroke-linecap="butt" fill="none"/>
<path d="M174.97 228.70 L174.97 227.25 M174.97 228.70 L176.35 228.25 M174.97 228.70 L175.83 229.87 M174.97 228.70 L174.12 229.87 M174.97 228.70 L173.60 228.25 " stroke="#2a2a2a" stroke-width="0.75" stroke-linecap="butt" fill="none"/>
<path d="M177.92 228.70 L177.92 227.25 M177.92 228.70 L179.30 228.25 M177.92 228.70 L178.78 229.87 M177.92 228.70 L177.07 229.87 M177.92 228.70 L176.55 228.25 " stroke="#2a2a2a" stroke-width="0.75" stroke-linecap="butt" fill="none"/>
<line x1="75.20" y1="209.10" x2="89.30" y2="209.10" stroke="#1a1a1a" stroke-width="1.4"/>
<circle cx="82.40" cy="209.10" r="2.40" fill="#666" stroke="#555" stroke-width="0.4"/>
<line x1="75.20" y1="220.70" x2="89.30" y2="220.70" stroke="#1a1a1a" stroke-width="1.4"/>
<rect x="79.90" y="218.20" width="5.00" height="5.00" fill="#4a90ea" stroke="#4a90ea" stroke-width="0.2"/>
<text x="97.00" y="212.80" font-size="10.5" fill="#222">AL</text>
<text x="97.00" y="224.40" font-size="10.5" fill="#222">IF</text>
<text x="264.40" y="194.80" font-size="15" font-weight="bold" fill="#111">C</text>
<line x1="306.50" y1="205.02" x2="306.50" y2="342.30" stroke="#555" stroke-width="1"/>
<line x1="300.80" y1="205.50" x2="306.80" y2="205.50" stroke="#555" stroke-width="1"/>
<text x="300.00" y="209.02" font-size="11.2" text-anchor="end" fill="#222">140</text>
<line x1="300.80" y1="239.50" x2="306.80" y2="239.50" stroke="#555" stroke-width="1"/>
<text x="300.00" y="243.34" font-size="11.2" text-anchor="end" fill="#222">120</text>
<line x1="300.80" y1="273.50" x2="306.80" y2="273.50" stroke="#555" stroke-width="1"/>
<text x="300.00" y="277.66" font-size="11.2" text-anchor="end" fill="#222">100</text>
<line x1="300.80" y1="307.50" x2="306.80" y2="307.50" stroke="#555" stroke-width="1"/>
<text x="300.00" y="311.98" font-size="11.2" text-anchor="end" fill="#222">80</text>
<line x1="300.80" y1="342.50" x2="306.80" y2="342.50" stroke="#555" stroke-width="1"/>
<text x="300.00" y="346.30" font-size="11.2" text-anchor="end" fill="#222">60</text>
<line x1="300.80" y1="342.50" x2="427.00" y2="342.50" stroke="#333" stroke-width="1"/>
<line x1="313.50" y1="342.30" x2="313.50" y2="348.40" stroke="#333" stroke-width="1"/>
<text x="313.60" y="357.80" font-size="11.2" text-anchor="middle" fill="#222">0</text>
<line x1="322.50" y1="342.30" x2="322.50" y2="348.40" stroke="#333" stroke-width="1"/>
<line x1="331.50" y1="342.30" x2="331.50" y2="348.40" stroke="#333" stroke-width="1"/>
<text x="331.40" y="357.80" font-size="11.2" text-anchor="middle" fill="#222">2</text>
<line x1="340.50" y1="342.30" x2="340.50" y2="348.40" stroke="#333" stroke-width="1"/>
<line x1="349.50" y1="342.30" x2="349.50" y2="348.40" stroke="#333" stroke-width="1"/>
<text x="349.20" y="357.80" font-size="11.2" text-anchor="middle" fill="#222">4</text>
<line x1="358.50" y1="342.30" x2="358.50" y2="348.40" stroke="#333" stroke-width="1"/>
<line x1="367.50" y1="342.30" x2="367.50" y2="348.40" stroke="#333" stroke-width="1"/>
<text x="367.00" y="357.80" font-size="11.2" text-anchor="middle" fill="#222">6</text>
<line x1="375.50" y1="342.30" x2="375.50" y2="348.40" stroke="#333" stroke-width="1"/>
<line x1="384.50" y1="342.30" x2="384.50" y2="348.40" stroke="#333" stroke-width="1"/>
<text x="384.80" y="357.80" font-size="11.2" text-anchor="middle" fill="#222">8</text>
<line x1="393.50" y1="342.30" x2="393.50" y2="348.40" stroke="#333" stroke-width="1"/>
<line x1="402.50" y1="342.30" x2="402.50" y2="348.40" stroke="#333" stroke-width="1"/>
<text x="402.60" y="357.80" font-size="11.2" text-anchor="middle" fill="#222">10</text>
<line x1="411.50" y1="342.30" x2="411.50" y2="348.40" stroke="#333" stroke-width="1"/>
<line x1="420.50" y1="342.30" x2="420.50" y2="348.40" stroke="#333" stroke-width="1"/>
<text x="420.40" y="357.80" font-size="11.2" text-anchor="middle" fill="#222">12</text>
<text x="337.40" y="378.80" font-size="12.3" font-weight="bold" fill="#111">DI&#160;&#160;Weeks</text>
<text x="278.80" y="352.00" font-size="12" font-weight="bold" transform="rotate(-90 278.80 352.00)" fill="#111">% of starting body weight</text>
<line x1="322.50" y1="266.80" x2="322.50" y2="259.93" stroke="#6e6e6e" stroke-width="1.2"/>
<line x1="319.70" y1="259.50" x2="325.30" y2="259.50" stroke="#6e6e6e" stroke-width="1.2"/>
<line x1="319.70" y1="266.50" x2="325.30" y2="266.50" stroke="#6e6e6e" stroke-width="1.2"/>
<line x1="322.50" y1="284.99" x2="322.50" y2="282.93" stroke="#3a3a3a" stroke-width="1.1"/>
<line x1="319.70" y1="282.50" x2="325.30" y2="282.50" stroke="#3a3a3a" stroke-width="1.1"/>
<line x1="319.70" y1="284.50" x2="325.30" y2="284.50" stroke="#3a3a3a" stroke-width="1.1"/>
<line x1="331.50" y1="262.16" x2="331.50" y2="255.99" stroke="#6e6e6e" stroke-width="1.2"/>
<line x1="328.60" y1="255.50" x2="334.20" y2="255.50" stroke="#6e6e6e" stroke-width="1.2"/>
<line x1="328.60" y1="262.50" x2="334.20" y2="262.50" stroke="#6e6e6e" stroke-width="1.2"/>
<line x1="331.50" y1="284.99" x2="331.50" y2="282.93" stroke="#3a3a3a" stroke-width="1.1"/>
<line x1="328.60" y1="282.50" x2="334.20" y2="282.50" stroke="#3a3a3a" stroke-width="1.1"/>
<line x1="328.60" y1="284.50" x2="334.20" y2="284.50" stroke="#3a3a3a" stroke-width="1.1"/>
<line x1="340.50" y1="258.56" x2="340.50" y2="251.01" stroke="#6e6e6e" stroke-width="1.2"/>
<line x1="337.50" y1="251.50" x2="343.10" y2="251.50" stroke="#6e6e6e" stroke-width="1.2"/>
<line x1="337.50" y1="258.50" x2="343.10" y2="258.50" stroke="#6e6e6e" stroke-width="1.2"/>
<line x1="340.50" y1="284.99" x2="340.50" y2="282.93" stroke="#3a3a3a" stroke-width="1.1"/>
<line x1="337.50" y1="282.50" x2="343.10" y2="282.50" stroke="#3a3a3a" stroke-width="1.1"/>
<line x1="337.50" y1="284.50" x2="343.10" y2="284.50" stroke="#3a3a3a" stroke-width="1.1"/>
<line x1="349.50" y1="255.64" x2="349.50" y2="240.20" stroke="#6e6e6e" stroke-width="1.2"/>
<line x1="346.40" y1="240.50" x2="352.00" y2="240.50" stroke="#6e6e6e" stroke-width="1.2"/>
<line x1="346.40" y1="255.50" x2="352.00" y2="255.50" stroke="#6e6e6e" stroke-width="1.2"/>
<line x1="349.50" y1="275.89" x2="349.50" y2="273.15" stroke="#3a3a3a" stroke-width="1.1"/>
<line x1="346.40" y1="273.50" x2="352.00" y2="273.50" stroke="#3a3a3a" stroke-width="1.1"/>
<line x1="346.40" y1="275.50" x2="352.00" y2="275.50" stroke="#3a3a3a" stroke-width="1.1"/>
<line x1="358.50" y1="263.02" x2="358.50" y2="243.12" stroke="#6e6e6e" stroke-width="1.2"/>
<line x1="355.30" y1="243.50" x2="360.90" y2="243.50" stroke="#6e6e6e" stroke-width="1.2"/>
<line x1="355.30" y1="263.50" x2="360.90" y2="263.50" stroke="#6e6e6e" stroke-width="1.2"/>
<line x1="358.50" y1="274.17" x2="358.50" y2="271.43" stroke="#3a3a3a" stroke-width="1.1"/>
<line x1="355.30" y1="271.50" x2="360.90" y2="271.50" stroke="#3a3a3a" stroke-width="1.1"/>
<line x1="355.30" y1="274.50" x2="360.90" y2="274.50" stroke="#3a3a3a" stroke-width="1.1"/>
<line x1="367.50" y1="248.78" x2="367.50" y2="241.91" stroke="#6e6e6e" stroke-width="1.2"/>
<line x1="364.20" y1="241.50" x2="369.80" y2="241.50" stroke="#6e6e6e" stroke-width="1.2"/>
<line x1="364.20" y1="248.50" x2="369.80" y2="248.50" stroke="#6e6e6e" stroke-width="1.2"/>
<line x1="367.50" y1="279.84" x2="367.50" y2="274.35" stroke="#3a3a3a" stroke-width="1.1"/>
<line x1="364.20" y1="274.50" x2="369.80" y2="274.50" stroke="#3a3a3a" stroke-width="1.1"/>
<line x1="364.20" y1="279.50" x2="369.80" y2="279.50" stroke="#3a3a3a" stroke-width="1.1"/>
<line x1="375.50" y1="245.35" x2="375.50" y2="235.05" stroke="#6e6e6e" stroke-width="1.2"/>
<line x1="373.10" y1="235.50" x2="378.70" y2="235.50" stroke="#6e6e6e" stroke-width="1.2"/>
<line x1="373.10" y1="245.50" x2="378.70" y2="245.50" stroke="#6e6e6e" stroke-width="1.2"/>
<line x1="375.50" y1="271.94" x2="375.50" y2="265.08" stroke="#3a3a3a" stroke-width="1.1"/>
<line x1="373.10" y1="265.50" x2="378.70" y2="265.50" stroke="#3a3a3a" stroke-width="1.1"/>
<line x1="373.10" y1="271.50" x2="378.70" y2="271.50" stroke="#3a3a3a" stroke-width="1.1"/>
<line x1="384.50" y1="241.57" x2="384.50" y2="231.96" stroke="#6e6e6e" stroke-width="1.2"/>
<line x1="382.00" y1="231.50" x2="387.60" y2="231.50" stroke="#6e6e6e" stroke-width="1.2"/>
<line x1="382.00" y1="241.50" x2="387.60" y2="241.50" stroke="#6e6e6e" stroke-width="1.2"/>
<line x1="384.50" y1="267.31" x2="384.50" y2="261.13" stroke="#3a3a3a" stroke-width="1.1"/>
<line x1="382.00" y1="261.50" x2="387.60" y2="261.50" stroke="#3a3a3a" stroke-width="1.1"/>
<line x1="382.00" y1="267.50" x2="387.60" y2="267.50" stroke="#3a3a3a" stroke-width="1.1"/>
<line x1="393.50" y1="236.42" x2="393.50" y2="223.38" stroke="#6e6e6e" stroke-width="1.2"/>
<line x1="390.90" y1="223.50" x2="396.50" y2="223.50" stroke="#6e6e6e" stroke-width="1.2"/>
<line x1="390.90" y1="236.50" x2="396.50" y2="236.50" stroke="#6e6e6e" stroke-width="1.2"/>
<line x1="393.50" y1="266.80" x2="393.50" y2="259.93" stroke="#3a3a3a" stroke-width="1.1"/>
<line x1="390.90" y1="259.50" x2="396.50" y2="259.50" stroke="#3a3a3a" stroke-width="1.1"/>
<line x1="390.90" y1="266.50" x2="396.50" y2="266.50" stroke="#3a3a3a" stroke-width="1.1"/>
<line x1="402.50" y1="238.14" x2="402.50" y2="221.67" stroke="#6e6e6e" stroke-width="1.2"/>
<line x1="399.80" y1="221.50" x2="405.40" y2="221.50" stroke="#6e6e6e" stroke-width="1.2"/>
<line x1="399.80" y1="238.50" x2="405.40" y2="238.50" stroke="#6e6e6e" stroke-width="1.2"/>
<line x1="402.50" y1="262.16" x2="402.50" y2="252.55" stroke="#3a3a3a" stroke-width="1.1"/>
<line x1="399.80" y1="252.50" x2="405.40" y2="252.50" stroke="#3a3a3a" stroke-width="1.1"/>
<line x1="399.80" y1="262.50" x2="405.40" y2="262.50" stroke="#3a3a3a" stroke-width="1.1"/>
<line x1="411.50" y1="235.39" x2="411.50" y2="219.95" stroke="#6e6e6e" stroke-width="1.2"/>
<line x1="408.70" y1="219.50" x2="414.30" y2="219.50" stroke="#6e6e6e" stroke-width="1.2"/>
<line x1="408.70" y1="235.50" x2="414.30" y2="235.50" stroke="#6e6e6e" stroke-width="1.2"/>
<line x1="411.50" y1="261.65" x2="411.50" y2="251.35" stroke="#3a3a3a" stroke-width="1.1"/>
<line x1="408.70" y1="251.50" x2="414.30" y2="251.50" stroke="#3a3a3a" stroke-width="1.1"/>
<line x1="408.70" y1="261.50" x2="414.30" y2="261.50" stroke="#3a3a3a" stroke-width="1.1"/>
<line x1="420.50" y1="236.77" x2="420.50" y2="223.04" stroke="#6e6e6e" stroke-width="1.2"/>
<line x1="417.60" y1="223.50" x2="423.20" y2="223.50" stroke="#6e6e6e" stroke-width="1.2"/>
<line x1="417.60" y1="236.50" x2="423.20" y2="236.50" stroke="#6e6e6e" stroke-width="1.2"/>
<line x1="420.50" y1="262.85" x2="420.50" y2="255.30" stroke="#3a3a3a" stroke-width="1.1"/>
<line x1="417.60" y1="255.50" x2="423.20" y2="255.50" stroke="#3a3a3a" stroke-width="1.1"/>
<line x1="417.60" y1="262.50" x2="423.20" y2="262.50" stroke="#3a3a3a" stroke-width="1.1"/>
<polyline points="313.60,273.66 322.50,263.36 331.40,259.07 340.30,254.78 349.20,247.92 358.10,253.07 367.00,245.35 375.90,240.20 384.80,236.77 393.70,229.90 402.60,229.90 411.50,227.67 420.40,229.90" fill="none" stroke="#1a1a1a" stroke-width="1.4" stroke-linejoin="round"/>
<polyline points="313.60,273.66 322.50,283.96 331.40,283.96 340.30,283.96 349.20,274.52 358.10,272.80 367.00,277.09 375.90,268.51 384.80,264.22 393.70,263.36 402.60,257.36 411.50,256.50 420.40,259.07" fill="none" stroke="#1a1a1a" stroke-width="1.4" stroke-linejoin="round"/>
<rect x="311.40" y="271.46" width="4.40" height="4.40" fill="#4a90ea" stroke="#4a90ea" stroke-width="0.2"/>
<circle cx="313.60" cy="273.66" r="2.20" fill="#606060" stroke="#555" stroke-width="0.4"/>
<rect x="320.30" y="281.76" width="4.40" height="4.40" fill="#4a90ea" stroke="#4a90ea" stroke-width="0.2"/>
<circle cx="322.50" cy="263.36" r="2.20" fill="#606060" stroke="#555" stroke-width="0.4"/>
<rect x="329.20" y="281.76" width="4.40" height="4.40" fill="#4a90ea" stroke="#4a90ea" stroke-width="0.2"/>
<circle cx="331.40" cy="259.07" r="2.20" fill="#606060" stroke="#555" stroke-width="0.4"/>
<rect x="338.10" y="281.76" width="4.40" height="4.40" fill="#4a90ea" stroke="#4a90ea" stroke-width="0.2"/>
<circle cx="340.30" cy="254.78" r="2.20" fill="#606060" stroke="#555" stroke-width="0.4"/>
<rect x="347.00" y="272.32" width="4.40" height="4.40" fill="#4a90ea" stroke="#4a90ea" stroke-width="0.2"/>
<circle cx="349.20" cy="247.92" r="2.20" fill="#606060" stroke="#555" stroke-width="0.4"/>
<rect x="355.90" y="270.60" width="4.40" height="4.40" fill="#4a90ea" stroke="#4a90ea" stroke-width="0.2"/>
<circle cx="358.10" cy="253.07" r="2.20" fill="#606060" stroke="#555" stroke-width="0.4"/>
<rect x="364.80" y="274.89" width="4.40" height="4.40" fill="#4a90ea" stroke="#4a90ea" stroke-width="0.2"/>
<circle cx="367.00" cy="245.35" r="2.20" fill="#606060" stroke="#555" stroke-width="0.4"/>
<rect x="373.70" y="266.31" width="4.40" height="4.40" fill="#4a90ea" stroke="#4a90ea" stroke-width="0.2"/>
<circle cx="375.90" cy="240.20" r="2.20" fill="#606060" stroke="#555" stroke-width="0.4"/>
<rect x="382.60" y="262.02" width="4.40" height="4.40" fill="#4a90ea" stroke="#4a90ea" stroke-width="0.2"/>
<circle cx="384.80" cy="236.77" r="2.20" fill="#606060" stroke="#555" stroke-width="0.4"/>
<rect x="391.50" y="261.16" width="4.40" height="4.40" fill="#4a90ea" stroke="#4a90ea" stroke-width="0.2"/>
<circle cx="393.70" cy="229.90" r="2.20" fill="#606060" stroke="#555" stroke-width="0.4"/>
<rect x="400.40" y="255.16" width="4.40" height="4.40" fill="#4a90ea" stroke="#4a90ea" stroke-width="0.2"/>
<circle cx="402.60" cy="229.90" r="2.20" fill="#606060" stroke="#555" stroke-width="0.4"/>
<rect x="409.30" y="254.30" width="4.40" height="4.40" fill="#4a90ea" stroke="#4a90ea" stroke-width="0.2"/>
<circle cx="411.50" cy="227.67" r="2.20" fill="#606060" stroke="#555" stroke-width="0.4"/>
<rect x="418.20" y="256.87" width="4.40" height="4.40" fill="#4a90ea" stroke="#4a90ea" stroke-width="0.2"/>
<circle cx="420.40" cy="229.90" r="2.20" fill="#606060" stroke="#555" stroke-width="0.4"/>
<path d="M318.55 256.30 L318.55 254.70 M318.55 256.30 L320.07 255.81 M318.55 256.30 L319.49 257.59 M318.55 256.30 L317.61 257.59 M318.55 256.30 L317.03 255.81 " stroke="#2a2a2a" stroke-width="0.80" stroke-linecap="butt" fill="none"/>
<path d="M321.85 256.30 L321.85 254.70 M321.85 256.30 L323.37 255.81 M321.85 256.30 L322.79 257.59 M321.85 256.30 L320.91 257.59 M321.85 256.30 L320.33 255.81 " stroke="#2a2a2a" stroke-width="0.80" stroke-linecap="butt" fill="none"/>
<path d="M325.15 256.30 L325.15 254.70 M325.15 256.30 L326.67 255.81 M325.15 256.30 L326.09 257.59 M325.15 256.30 L324.21 257.59 M325.15 256.30 L323.63 255.81 " stroke="#2a2a2a" stroke-width="0.80" stroke-linecap="butt" fill="none"/>
<path d="M328.45 256.30 L328.45 254.70 M328.45 256.30 L329.97 255.81 M328.45 256.30 L329.39 257.59 M328.45 256.30 L327.51 257.59 M328.45 256.30 L326.93 255.81 " stroke="#2a2a2a" stroke-width="0.80" stroke-linecap="butt" fill="none"/>
<path d="M327.25 251.40 L327.25 249.80 M327.25 251.40 L328.77 250.91 M327.25 251.40 L328.19 252.69 M327.25 251.40 L326.31 252.69 M327.25 251.40 L325.73 250.91 " stroke="#2a2a2a" stroke-width="0.80" stroke-linecap="butt" fill="none"/>
<path d="M330.55 251.40 L330.55 249.80 M330.55 251.40 L332.07 250.91 M330.55 251.40 L331.49 252.69 M330.55 251.40 L329.61 252.69 M330.55 251.40 L329.03 250.91 " stroke="#2a2a2a" stroke-width="0.80" stroke-linecap="butt" fill="none"/>
<path d="M333.85 251.40 L333.85 249.80 M333.85 251.40 L335.37 250.91 M333.85 251.40 L334.79 252.69 M333.85 251.40 L332.91 252.69 M333.85 251.40 L332.33 250.91 " stroke="#2a2a2a" stroke-width="0.80" stroke-linecap="butt" fill="none"/>
<path d="M337.15 251.40 L337.15 249.80 M337.15 251.40 L338.67 250.91 M337.15 251.40 L338.09 252.69 M337.15 251.40 L336.21 252.69 M337.15 251.40 L335.63 250.91 " stroke="#2a2a2a" stroke-width="0.80" stroke-linecap="butt" fill="none"/>
<path d="M336.05 246.50 L336.05 244.90 M336.05 246.50 L337.57 246.01 M336.05 246.50 L336.99 247.79 M336.05 246.50 L335.11 247.79 M336.05 246.50 L334.53 246.01 " stroke="#2a2a2a" stroke-width="0.80" stroke-linecap="butt" fill="none"/>
<path d="M339.35 246.50 L339.35 244.90 M339.35 246.50 L340.87 246.01 M339.35 246.50 L340.29 247.79 M339.35 246.50 L338.41 247.79 M339.35 246.50 L337.83 246.01 " stroke="#2a2a2a" stroke-width="0.80" stroke-linecap="butt" fill="none"/>
<path d="M342.65 246.50 L342.65 244.90 M342.65 246.50 L344.17 246.01 M342.65 246.50 L343.59 247.79 M342.65 246.50 L341.71 247.79 M342.65 246.50 L341.13 246.01 " stroke="#2a2a2a" stroke-width="0.80" stroke-linecap="butt" fill="none"/>
<path d="M345.95 246.50 L345.95 244.90 M345.95 246.50 L347.47 246.01 M345.95 246.50 L346.89 247.79 M345.95 246.50 L345.01 247.79 M345.95 246.50 L344.43 246.01 " stroke="#2a2a2a" stroke-width="0.80" stroke-linecap="butt" fill="none"/>
<path d="M344.85 236.50 L344.85 234.90 M344.85 236.50 L346.37 236.01 M344.85 236.50 L345.79 237.79 M344.85 236.50 L343.91 237.79 M344.85 236.50 L343.33 236.01 " stroke="#2a2a2a" stroke-width="0.80" stroke-linecap="butt" fill="none"/>
<path d="M348.15 236.50 L348.15 234.90 M348.15 236.50 L349.67 236.01 M348.15 236.50 L349.09 237.79 M348.15 236.50 L347.21 237.79 M348.15 236.50 L346.63 236.01 " stroke="#2a2a2a" stroke-width="0.80" stroke-linecap="butt" fill="none"/>
<path d="M351.45 236.50 L351.45 234.90 M351.45 236.50 L352.97 236.01 M351.45 236.50 L352.39 237.79 M351.45 236.50 L350.51 237.79 M351.45 236.50 L349.93 236.01 " stroke="#2a2a2a" stroke-width="0.80" stroke-linecap="butt" fill="none"/>
<path d="M354.75 236.50 L354.75 234.90 M354.75 236.50 L356.27 236.01 M354.75 236.50 L355.69 237.79 M354.75 236.50 L353.81 237.79 M354.75 236.50 L353.23 236.01 " stroke="#2a2a2a" stroke-width="0.80" stroke-linecap="butt" fill="none"/>
<path d="M354.90 240.00 L354.90 238.40 M354.90 240.00 L356.42 239.51 M354.90 240.00 L355.84 241.29 M354.90 240.00 L353.96 241.29 M354.90 240.00 L353.38 239.51 " stroke="#2a2a2a" stroke-width="0.80" stroke-linecap="butt" fill="none"/>
<path d="M358.20 240.00 L358.20 238.40 M358.20 240.00 L359.72 239.51 M358.20 240.00 L359.14 241.29 M358.20 240.00 L357.26 241.29 M358.20 240.00 L356.68 239.51 " stroke="#2a2a2a" stroke-width="0.80" stroke-linecap="butt" fill="none"/>
<path d="M361.50 240.00 L361.50 238.40 M361.50 240.00 L363.02 239.51 M361.50 240.00 L362.44 241.29 M361.50 240.00 L360.56 241.29 M361.50 240.00 L359.98 239.51 " stroke="#2a2a2a" stroke-width="0.80" stroke-linecap="butt" fill="none"/>
<path d="M362.35 236.50 L362.35 234.90 M362.35 236.50 L363.87 236.01 M362.35 236.50 L363.29 237.79 M362.35 236.50 L361.41 237.79 M362.35 236.50 L360.83 236.01 " stroke="#2a2a2a" stroke-width="0.80" stroke-linecap="butt" fill="none"/>
<path d="M365.65 236.50 L365.65 234.90 M365.65 236.50 L367.17 236.01 M365.65 236.50 L366.59 237.79 M365.65 236.50 L364.71 237.79 M365.65 236.50 L364.13 236.01 " stroke="#2a2a2a" stroke-width="0.80" stroke-linecap="butt" fill="none"/>
<path d="M368.95 236.50 L368.95 234.90 M368.95 236.50 L370.47 236.01 M368.95 236.50 L369.89 237.79 M368.95 236.50 L368.01 237.79 M368.95 236.50 L367.43 236.01 " stroke="#2a2a2a" stroke-width="0.80" stroke-linecap="butt" fill="none"/>
<path d="M372.25 236.50 L372.25 234.90 M372.25 236.50 L373.77 236.01 M372.25 236.50 L373.19 237.79 M372.25 236.50 L371.31 237.79 M372.25 236.50 L370.73 236.01 " stroke="#2a2a2a" stroke-width="0.80" stroke-linecap="butt" fill="none"/>
<path d="M371.05 230.90 L371.05 229.30 M371.05 230.90 L372.57 230.41 M371.05 230.90 L371.99 232.19 M371.05 230.90 L370.11 232.19 M371.05 230.90 L369.53 230.41 " stroke="#2a2a2a" stroke-width="0.80" stroke-linecap="butt" fill="none"/>
<path d="M374.35 230.90 L374.35 229.30 M374.35 230.90 L375.87 230.41 M374.35 230.90 L375.29 232.19 M374.35 230.90 L373.41 232.19 M374.35 230.90 L372.83 230.41 " stroke="#2a2a2a" stroke-width="0.80" stroke-linecap="butt" fill="none"/>
<path d="M377.65 230.90 L377.65 229.30 M377.65 230.90 L379.17 230.41 M377.65 230.90 L378.59 232.19 M377.65 230.90 L376.71 232.19 M377.65 230.90 L376.13 230.41 " stroke="#2a2a2a" stroke-width="0.80" stroke-linecap="butt" fill="none"/>
<path d="M380.95 230.90 L380.95 229.30 M380.95 230.90 L382.47 230.41 M380.95 230.90 L381.89 232.19 M380.95 230.90 L380.01 232.19 M380.95 230.90 L379.43 230.41 " stroke="#2a2a2a" stroke-width="0.80" stroke-linecap="butt" fill="none"/>
<path d="M379.85 225.70 L379.85 224.10 M379.85 225.70 L381.37 225.21 M379.85 225.70 L380.79 226.99 M379.85 225.70 L378.91 226.99 M379.85 225.70 L378.33 225.21 " stroke="#2a2a2a" stroke-width="0.80" stroke-linecap="butt" fill="none"/>
<path d="M383.15 225.70 L383.15 224.10 M383.15 225.70 L384.67 225.21 M383.15 225.70 L384.09 226.99 M383.15 225.70 L382.21 226.99 M383.15 225.70 L381.63 225.21 " stroke="#2a2a2a" stroke-width="0.80" stroke-linecap="butt" fill="none"/>
<path d="M386.45 225.70 L386.45 224.10 M386.45 225.70 L387.97 225.21 M386.45 225.70 L387.39 226.99 M386.45 225.70 L385.51 226.99 M386.45 225.70 L384.93 225.21 " stroke="#2a2a2a" stroke-width="0.80" stroke-linecap="butt" fill="none"/>
<path d="M389.75 225.70 L389.75 224.10 M389.75 225.70 L391.27 225.21 M389.75 225.70 L390.69 226.99 M389.75 225.70 L388.81 226.99 M389.75 225.70 L388.23 225.21 " stroke="#2a2a2a" stroke-width="0.80" stroke-linecap="butt" fill="none"/>
<path d="M388.65 220.80 L388.65 219.20 M388.65 220.80 L390.17 220.31 M388.65 220.80 L389.59 222.09 M388.65 220.80 L387.71 222.09 M388.65 220.80 L387.13 220.31 " stroke="#2a2a2a" stroke-width="0.80" stroke-linecap="butt" fill="none"/>
<path d="M391.95 220.80 L391.95 219.20 M391.95 220.80 L393.47 220.31 M391.95 220.80 L392.89 222.09 M391.95 220.80 L391.01 222.09 M391.95 220.80 L390.43 220.31 " stroke="#2a2a2a" stroke-width="0.80" stroke-linecap="butt" fill="none"/>
<path d="M395.25 220.80 L395.25 219.20 M395.25 220.80 L396.77 220.31 M395.25 220.80 L396.19 222.09 M395.25 220.80 L394.31 222.09 M395.25 220.80 L393.73 220.31 " stroke="#2a2a2a" stroke-width="0.80" stroke-linecap="butt" fill="none"/>
<path d="M398.55 220.80 L398.55 219.20 M398.55 220.80 L400.07 220.31 M398.55 220.80 L399.49 222.09 M398.55 220.80 L397.61 222.09 M398.55 220.80 L397.03 220.31 " stroke="#2a2a2a" stroke-width="0.80" stroke-linecap="butt" fill="none"/>
<path d="M398.95 216.90 L398.95 215.30 M398.95 216.90 L400.47 216.41 M398.95 216.90 L399.89 218.19 M398.95 216.90 L398.01 218.19 M398.95 216.90 L397.43 216.41 " stroke="#2a2a2a" stroke-width="0.80" stroke-linecap="butt" fill="none"/>
<path d="M402.25 216.90 L402.25 215.30 M402.25 216.90 L403.77 216.41 M402.25 216.90 L403.19 218.19 M402.25 216.90 L401.31 218.19 M402.25 216.90 L400.73 216.41 " stroke="#2a2a2a" stroke-width="0.80" stroke-linecap="butt" fill="none"/>
<path d="M405.55 216.90 L405.55 215.30 M405.55 216.90 L407.07 216.41 M405.55 216.90 L406.49 218.19 M405.55 216.90 L404.61 218.19 M405.55 216.90 L404.03 216.41 " stroke="#2a2a2a" stroke-width="0.80" stroke-linecap="butt" fill="none"/>
<path d="M408.85 216.90 L408.85 215.30 M408.85 216.90 L410.37 216.41 M408.85 216.90 L409.79 218.19 M408.85 216.90 L407.91 218.19 M408.85 216.90 L407.33 216.41 " stroke="#2a2a2a" stroke-width="0.80" stroke-linecap="butt" fill="none"/>
<path d="M408.05 212.90 L408.05 211.30 M408.05 212.90 L409.57 212.41 M408.05 212.90 L408.99 214.19 M408.05 212.90 L407.11 214.19 M408.05 212.90 L406.53 212.41 " stroke="#2a2a2a" stroke-width="0.80" stroke-linecap="butt" fill="none"/>
<path d="M411.35 212.90 L411.35 211.30 M411.35 212.90 L412.87 212.41 M411.35 212.90 L412.29 214.19 M411.35 212.90 L410.41 214.19 M411.35 212.90 L409.83 212.41 " stroke="#2a2a2a" stroke-width="0.80" stroke-linecap="butt" fill="none"/>
<path d="M414.65 212.90 L414.65 211.30 M414.65 212.90 L416.17 212.41 M414.65 212.90 L415.59 214.19 M414.65 212.90 L413.71 214.19 M414.65 212.90 L413.13 212.41 " stroke="#2a2a2a" stroke-width="0.80" stroke-linecap="butt" fill="none"/>
<path d="M417.95 212.90 L417.95 211.30 M417.95 212.90 L419.47 212.41 M417.95 212.90 L418.89 214.19 M417.95 212.90 L417.01 214.19 M417.95 212.90 L416.43 212.41 " stroke="#2a2a2a" stroke-width="0.80" stroke-linecap="butt" fill="none"/>
<path d="M416.25 220.80 L416.25 219.20 M416.25 220.80 L417.77 220.31 M416.25 220.80 L417.19 222.09 M416.25 220.80 L415.31 222.09 M416.25 220.80 L414.73 220.31 " stroke="#2a2a2a" stroke-width="0.80" stroke-linecap="butt" fill="none"/>
<path d="M419.55 220.80 L419.55 219.20 M419.55 220.80 L421.07 220.31 M419.55 220.80 L420.49 222.09 M419.55 220.80 L418.61 222.09 M419.55 220.80 L418.03 220.31 " stroke="#2a2a2a" stroke-width="0.80" stroke-linecap="butt" fill="none"/>
<path d="M422.85 220.80 L422.85 219.20 M422.85 220.80 L424.37 220.31 M422.85 220.80 L423.79 222.09 M422.85 220.80 L421.91 222.09 M422.85 220.80 L421.33 220.31 " stroke="#2a2a2a" stroke-width="0.80" stroke-linecap="butt" fill="none"/>
<path d="M426.15 220.80 L426.15 219.20 M426.15 220.80 L427.67 220.31 M426.15 220.80 L427.09 222.09 M426.15 220.80 L425.21 222.09 M426.15 220.80 L424.63 220.31 " stroke="#2a2a2a" stroke-width="0.80" stroke-linecap="butt" fill="none"/>
<line x1="317.00" y1="209.30" x2="331.70" y2="209.30" stroke="#1a1a1a" stroke-width="1.4"/>
<circle cx="324.50" cy="209.30" r="2.40" fill="#666" stroke="#555" stroke-width="0.4"/>
<line x1="317.00" y1="220.70" x2="331.70" y2="220.70" stroke="#1a1a1a" stroke-width="1.4"/>
<rect x="322.00" y="218.20" width="5.00" height="5.00" fill="#4a90ea" stroke="#4a90ea" stroke-width="0.2"/>
<text x="339.40" y="213.00" font-size="10.5" fill="#222">AL</text>
<text x="339.40" y="224.40" font-size="10.5" fill="#222">IF</text>
<text x="503.40" y="194.60" font-size="15" font-weight="bold" fill="#111">D</text>
<line x1="543.50" y1="205.70" x2="543.50" y2="341.60" stroke="#333" stroke-width="1"/>
<line x1="537.80" y1="205.50" x2="543.20" y2="205.50" stroke="#333" stroke-width="1"/>
<text x="536.60" y="209.60" font-size="11" text-anchor="end" fill="#222">6</text>
<line x1="537.80" y1="246.50" x2="543.20" y2="246.50" stroke="#333" stroke-width="1"/>
<text x="536.60" y="250.80" font-size="11" text-anchor="end" fill="#222">4</text>
<line x1="537.80" y1="288.50" x2="543.20" y2="288.50" stroke="#333" stroke-width="1"/>
<text x="536.60" y="292.00" font-size="11" text-anchor="end" fill="#222">2</text>
<line x1="537.80" y1="329.50" x2="543.20" y2="329.50" stroke="#333" stroke-width="1"/>
<text x="536.60" y="333.20" font-size="11" text-anchor="end" fill="#222">0</text>
<text x="523.20" y="343.60" font-size="11.8" font-weight="bold" transform="rotate(-90 523.20 343.60)" fill="#111">Food intake (g/day/mice)</text>
<rect x="542.70" y="329.80" width="41.90" height="11.80" fill="#e4a3a1" stroke="#b02a3a" stroke-width="1"/>
<rect x="584.70" y="329.30" width="39.00" height="12.30" fill="#80f97f"/>
<rect x="623.70" y="329.30" width="39.70" height="12.30" fill="#f1deb0"/>
<line x1="543.20" y1="341.50" x2="664.50" y2="341.50" stroke="#333" stroke-width="1"/>
<line x1="543.20" y1="329.50" x2="664.50" y2="329.50" stroke="#555" stroke-width="0.8"/>
<line x1="562.50" y1="339.80" x2="562.50" y2="345.50" stroke="#222" stroke-width="1"/>
<line x1="604.50" y1="339.80" x2="604.50" y2="345.50" stroke="#222" stroke-width="1"/>
<line x1="644.50" y1="339.80" x2="644.50" y2="345.50" stroke="#222" stroke-width="1"/>
<rect x="551.70" y="266.56" width="11.40" height="62.74" fill="#5f5f5f" stroke="#111" stroke-width="1"/>
<rect x="591.30" y="269.03" width="12.10" height="60.27" fill="#5f5f5f" stroke="#111" stroke-width="1"/>
<rect x="604.40" y="231.54" width="11.70" height="97.76" fill="#9ecbf8" stroke="#111" stroke-width="1"/>
<rect x="631.90" y="268.00" width="11.70" height="61.30" fill="#5f5f5f" stroke="#111" stroke-width="1"/>
<rect x="644.60" y="280.57" width="12.60" height="48.73" fill="#9ecbf8" stroke="#111" stroke-width="1"/>
<line x1="557.50" y1="276.77" x2="557.50" y2="256.17" stroke="#333" stroke-width="0.9"/>
<line x1="554.40" y1="256.50" x2="560.40" y2="256.50" stroke="#333" stroke-width="0.9"/>
<line x1="554.40" y1="276.50" x2="560.40" y2="276.50" stroke="#333" stroke-width="0.9"/>
<line x1="597.50" y1="278.83" x2="597.50" y2="257.20" stroke="#333" stroke-width="0.9"/>
<line x1="594.30" y1="257.50" x2="600.30" y2="257.50" stroke="#333" stroke-width="0.9"/>
<line x1="594.30" y1="278.50" x2="600.30" y2="278.50" stroke="#333" stroke-width="0.9"/>
<line x1="610.50" y1="245.87" x2="610.50" y2="214.97" stroke="#333" stroke-width="0.9"/>
<line x1="607.20" y1="214.50" x2="613.20" y2="214.50" stroke="#333" stroke-width="0.9"/>
<line x1="607.20" y1="245.50" x2="613.20" y2="245.50" stroke="#333" stroke-width="0.9"/>
<line x1="637.50" y1="272.65" x2="637.50" y2="258.23" stroke="#333" stroke-width="0.9"/>
<line x1="634.70" y1="258.50" x2="640.70" y2="258.50" stroke="#333" stroke-width="0.9"/>
<line x1="634.70" y1="272.50" x2="640.70" y2="272.50" stroke="#333" stroke-width="0.9"/>
<line x1="650.50" y1="285.01" x2="650.50" y2="272.65" stroke="#333" stroke-width="0.9"/>
<line x1="647.90" y1="272.50" x2="653.90" y2="272.50" stroke="#333" stroke-width="0.9"/>
<line x1="647.90" y1="285.50" x2="653.90" y2="285.50" stroke="#333" stroke-width="0.9"/>
<circle cx="557.40" cy="246.90" r="1.40" fill="#fff" stroke="#222" stroke-width="0.6"/>
<circle cx="557.40" cy="256.17" r="1.40" fill="#fff" stroke="#222" stroke-width="0.6"/>
<circle cx="552.80" cy="267.50" r="1.40" fill="#fff" stroke="#222" stroke-width="0.6"/>
<circle cx="556.00" cy="267.50" r="1.40" fill="#fff" stroke="#222" stroke-width="0.6"/>
<circle cx="559.20" cy="267.50" r="1.40" fill="#fff" stroke="#222" stroke-width="0.6"/>
<circle cx="562.00" cy="267.50" r="1.40" fill="#fff" stroke="#222" stroke-width="0.6"/>
<circle cx="557.40" cy="273.68" r="1.40" fill="#fff" stroke="#222" stroke-width="0.6"/>
<circle cx="557.40" cy="277.80" r="1.40" fill="#fff" stroke="#222" stroke-width="0.6"/>
<circle cx="565.40" cy="329.30" r="1.10" fill="#fff" stroke="#222" stroke-width="0.6"/>
<circle cx="568.00" cy="329.30" r="1.10" fill="#fff" stroke="#222" stroke-width="0.6"/>
<circle cx="570.60" cy="329.30" r="1.10" fill="#fff" stroke="#222" stroke-width="0.6"/>
<circle cx="573.20" cy="329.30" r="1.10" fill="#fff" stroke="#222" stroke-width="0.6"/>
<circle cx="575.80" cy="329.30" r="1.10" fill="#fff" stroke="#222" stroke-width="0.6"/>
<circle cx="597.30" cy="249.99" r="1.40" fill="#fff" stroke="#222" stroke-width="0.6"/>
<circle cx="593.20" cy="260.29" r="1.40" fill="#fff" stroke="#222" stroke-width="0.6"/>
<circle cx="600.60" cy="260.29" r="1.40" fill="#fff" stroke="#222" stroke-width="0.6"/>
<circle cx="597.30" cy="265.44" r="1.40" fill="#fff" stroke="#222" stroke-width="0.6"/>
<circle cx="597.30" cy="272.65" r="1.40" fill="#fff" stroke="#222" stroke-width="0.6"/>
<circle cx="592.40" cy="280.89" r="1.40" fill="#fff" stroke="#222" stroke-width="0.6"/>
<circle cx="601.80" cy="280.89" r="1.40" fill="#fff" stroke="#222" stroke-width="0.6"/>
<circle cx="597.30" cy="278.83" r="1.40" fill="#fff" stroke="#222" stroke-width="0.6"/>
<circle cx="608.60" cy="216.00" r="1.40" fill="#fff" stroke="#222" stroke-width="0.6"/>
<circle cx="611.80" cy="216.00" r="1.40" fill="#fff" stroke="#222" stroke-width="0.6"/>
<circle cx="610.20" cy="211.88" r="1.40" fill="#fff" stroke="#222" stroke-width="0.6"/>
<circle cx="610.20" cy="226.30" r="1.40" fill="#fff" stroke="#222" stroke-width="0.6"/>
<circle cx="605.40" cy="234.54" r="1.40" fill="#fff" stroke="#222" stroke-width="0.6"/>
<circle cx="610.20" cy="236.60" r="1.40" fill="#fff" stroke="#222" stroke-width="0.6"/>
<circle cx="615.20" cy="236.60" r="1.40" fill="#fff" stroke="#222" stroke-width="0.6"/>
<circle cx="610.20" cy="262.35" r="1.40" fill="#fff" stroke="#222" stroke-width="0.6"/>
<circle cx="633.40" cy="258.23" r="1.40" fill="#fff" stroke="#222" stroke-width="0.6"/>
<circle cx="637.70" cy="255.14" r="1.40" fill="#fff" stroke="#222" stroke-width="0.6"/>
<circle cx="637.70" cy="260.29" r="1.40" fill="#fff" stroke="#222" stroke-width="0.6"/>
<circle cx="637.70" cy="265.44" r="1.40" fill="#fff" stroke="#222" stroke-width="0.6"/>
<circle cx="632.60" cy="272.65" r="1.40" fill="#fff" stroke="#222" stroke-width="0.6"/>
<circle cx="636.00" cy="272.65" r="1.40" fill="#fff" stroke="#222" stroke-width="0.6"/>
<circle cx="639.40" cy="272.65" r="1.40" fill="#fff" stroke="#222" stroke-width="0.6"/>
<circle cx="642.60" cy="272.65" r="1.40" fill="#fff" stroke="#222" stroke-width="0.6"/>
<circle cx="646.40" cy="272.65" r="1.40" fill="#fff" stroke="#222" stroke-width="0.6"/>
<circle cx="650.90" cy="271.62" r="1.40" fill="#fff" stroke="#222" stroke-width="0.6"/>
<circle cx="655.40" cy="272.65" r="1.40" fill="#fff" stroke="#222" stroke-width="0.6"/>
<circle cx="650.90" cy="276.77" r="1.40" fill="#fff" stroke="#222" stroke-width="0.6"/>
<circle cx="646.20" cy="283.98" r="1.40" fill="#fff" stroke="#222" stroke-width="0.6"/>
<circle cx="650.90" cy="283.98" r="1.40" fill="#fff" stroke="#222" stroke-width="0.6"/>
<circle cx="655.60" cy="283.98" r="1.40" fill="#fff" stroke="#222" stroke-width="0.6"/>
<circle cx="650.90" cy="295.31" r="1.40" fill="#fff" stroke="#222" stroke-width="0.6"/>
<path d="M587.40 211.40 L587.40 206.40 L611.40 206.40 L611.40 211.40" fill="none" stroke="#444" stroke-width="0.9"/>
<path d="M596.25 201.50 L596.25 199.00 M596.25 201.50 L598.63 200.73 M596.25 201.50 L597.72 203.52 M596.25 201.50 L594.78 203.52 M596.25 201.50 L593.87 200.73 " stroke="#1a1a1a" stroke-width="1.20" stroke-linecap="butt" fill="none"/>
<path d="M601.40 201.50 L601.40 199.00 M601.40 201.50 L603.78 200.73 M601.40 201.50 L602.87 203.52 M601.40 201.50 L599.93 203.52 M601.40 201.50 L599.02 200.73 " stroke="#1a1a1a" stroke-width="1.20" stroke-linecap="butt" fill="none"/>
<path d="M606.55 201.50 L606.55 199.00 M606.55 201.50 L608.93 200.73 M606.55 201.50 L608.02 203.52 M606.55 201.50 L605.08 203.52 M606.55 201.50 L604.17 200.73 " stroke="#1a1a1a" stroke-width="1.20" stroke-linecap="butt" fill="none"/>
<path d="M637.00 236.70 L637.00 232.10 L660.00 232.10 L660.00 236.70" fill="none" stroke="#444" stroke-width="0.9"/>
<path d="M646.90 224.70 L646.90 222.20 M646.90 224.70 L649.28 223.93 M646.90 224.70 L648.37 226.72 M646.90 224.70 L645.43 226.72 M646.90 224.70 L644.52 223.93 " stroke="#1a1a1a" stroke-width="1.20" stroke-linecap="butt" fill="none"/>
<path d="M651.90 224.70 L651.90 222.20 M651.90 224.70 L654.28 223.93 M651.90 224.70 L653.37 226.72 M651.90 224.70 L650.43 226.72 M651.90 224.70 L649.52 223.93 " stroke="#1a1a1a" stroke-width="1.20" stroke-linecap="butt" fill="none"/>
<text x="628.90" y="251.90" font-size="10.5" fill="#111">3.02 g</text>
<text x="645.40" y="267.30" font-size="10.5" fill="#111">2.39 g</text>
<rect x="659.90" y="193.20" width="6.80" height="6.60" fill="#5f5f5f" stroke="#111" stroke-width="0.8"/>
<rect x="659.90" y="204.70" width="6.80" height="6.60" fill="#5aa0f2" stroke="#111" stroke-width="0.8"/>
<text x="671.70" y="199.90" font-size="10.2" fill="#111">AL</text>
<text x="671.70" y="211.40" font-size="10.2" fill="#111">IF</text>
<text x="576.60" y="350.60" font-size="10.8" font-weight="bold" text-anchor="end" transform="rotate(-45 576.60 350.60)" fill="#111">Fast days</text>
<text x="612.60" y="351.60" font-size="10.8" font-weight="bold" text-anchor="end" transform="rotate(-45 612.60 351.60)" fill="#111">Fed days</text>
<text x="652.80" y="349.60" font-size="10.8" font-weight="bold" text-anchor="end" transform="rotate(-45 652.80 349.60)" fill="#111">Combined</text>
<text x="1.20" y="407.00" font-size="15" font-weight="bold" fill="#111">E</text>
<line x1="69.50" y1="420.70" x2="69.50" y2="541.30" stroke="#333" stroke-width="1"/>
<line x1="61.20" y1="420.50" x2="69.40" y2="420.50" stroke="#333" stroke-width="1"/>
<text x="59.00" y="423.40" font-size="11" text-anchor="end" fill="#222">15</text>
<line x1="61.20" y1="460.50" x2="69.40" y2="460.50" stroke="#333" stroke-width="1"/>
<text x="59.00" y="463.60" font-size="11" text-anchor="end" fill="#222">10</text>
<line x1="61.20" y1="501.50" x2="69.40" y2="501.50" stroke="#333" stroke-width="1"/>
<text x="59.00" y="503.80" font-size="11" text-anchor="end" fill="#222">5</text>
<line x1="61.20" y1="541.50" x2="69.40" y2="541.50" stroke="#333" stroke-width="1"/>
<text x="59.00" y="544.00" font-size="11" text-anchor="end" fill="#222">0</text>
<line x1="69.40" y1="541.50" x2="131.10" y2="541.50" stroke="#333" stroke-width="1"/>
<rect x="79.00" y="472.17" width="17.40" height="69.13" fill="#5f5f5f" stroke="#111" stroke-width="1"/>
<rect x="106.00" y="486.32" width="17.00" height="54.98" fill="#9ecbf8" stroke="#111" stroke-width="1"/>
<line x1="87.50" y1="485.02" x2="87.50" y2="459.29" stroke="#333" stroke-width="1.0"/>
<line x1="83.30" y1="459.50" x2="92.30" y2="459.50" stroke="#333" stroke-width="1.0"/>
<line x1="83.30" y1="485.50" x2="92.30" y2="485.50" stroke="#333" stroke-width="1.0"/>
<line x1="114.50" y1="496.52" x2="114.50" y2="478.99" stroke="#333" stroke-width="1.0"/>
<line x1="110.40" y1="478.50" x2="119.40" y2="478.50" stroke="#333" stroke-width="1.0"/>
<line x1="110.40" y1="496.50" x2="119.40" y2="496.50" stroke="#333" stroke-width="1.0"/>
<line x1="87.50" y1="541.30" x2="87.50" y2="544.70" stroke="#333" stroke-width="1"/>
<line x1="114.50" y1="541.30" x2="114.50" y2="544.70" stroke="#333" stroke-width="1"/>
<text x="87.80" y="557.60" font-size="12" font-weight="bold" text-anchor="middle" fill="#111">AL</text>
<text x="114.90" y="557.60" font-size="12" font-weight="bold" text-anchor="middle" fill="#111">IF</text>
<circle cx="87.40" cy="445.78" r="1.60" fill="#fff" stroke="#222" stroke-width="0.8"/>
<circle cx="85.40" cy="454.87" r="1.60" fill="#fff" stroke="#222" stroke-width="0.8"/>
<circle cx="89.30" cy="455.27" r="1.60" fill="#fff" stroke="#222" stroke-width="0.8"/>
<circle cx="87.40" cy="459.69" r="1.60" fill="#fff" stroke="#222" stroke-width="0.8"/>
<circle cx="83.00" cy="464.12" r="1.60" fill="#fff" stroke="#222" stroke-width="0.8"/>
<circle cx="91.90" cy="464.92" r="1.60" fill="#fff" stroke="#222" stroke-width="0.8"/>
<circle cx="86.20" cy="466.93" r="1.60" fill="#fff" stroke="#222" stroke-width="0.8"/>
<circle cx="91.90" cy="469.34" r="1.60" fill="#fff" stroke="#222" stroke-width="0.8"/>
<circle cx="83.00" cy="472.48" r="1.60" fill="#fff" stroke="#222" stroke-width="0.8"/>
<circle cx="86.20" cy="472.16" r="1.60" fill="#fff" stroke="#222" stroke-width="0.8"/>
<circle cx="80.20" cy="474.89" r="1.60" fill="#fff" stroke="#222" stroke-width="0.8"/>
<circle cx="91.90" cy="473.28" r="1.60" fill="#fff" stroke="#222" stroke-width="0.8"/>
<circle cx="94.70" cy="474.89" r="1.60" fill="#fff" stroke="#222" stroke-width="0.8"/>
<circle cx="85.80" cy="475.69" r="1.60" fill="#fff" stroke="#222" stroke-width="0.8"/>
<circle cx="89.10" cy="475.69" r="1.60" fill="#fff" stroke="#222" stroke-width="0.8"/>
<circle cx="91.90" cy="477.78" r="1.60" fill="#fff" stroke="#222" stroke-width="0.8"/>
<circle cx="85.80" cy="481.40" r="1.60" fill="#fff" stroke="#222" stroke-width="0.8"/>
<circle cx="89.10" cy="481.40" r="1.60" fill="#fff" stroke="#222" stroke-width="0.8"/>
<circle cx="85.80" cy="491.77" r="1.60" fill="#fff" stroke="#222" stroke-width="0.8"/>
<circle cx="89.10" cy="491.77" r="1.60" fill="#fff" stroke="#222" stroke-width="0.8"/>
<circle cx="87.40" cy="496.60" r="1.60" fill="#fff" stroke="#222" stroke-width="0.8"/>
<circle cx="114.40" cy="472.16" r="1.60" fill="#fff" stroke="#222" stroke-width="0.8"/>
<circle cx="110.30" cy="476.50" r="1.60" fill="#fff" stroke="#222" stroke-width="0.8"/>
<circle cx="118.00" cy="478.99" r="1.60" fill="#fff" stroke="#222" stroke-width="0.8"/>
<circle cx="107.10" cy="480.60" r="1.60" fill="#fff" stroke="#222" stroke-width="0.8"/>
<circle cx="110.70" cy="482.21" r="1.60" fill="#fff" stroke="#222" stroke-width="0.8"/>
<circle cx="114.40" cy="481.80" r="1.60" fill="#fff" stroke="#222" stroke-width="0.8"/>
<circle cx="114.40" cy="486.23" r="1.60" fill="#fff" stroke="#222" stroke-width="0.8"/>
<circle cx="107.10" cy="487.83" r="1.60" fill="#fff" stroke="#222" stroke-width="0.8"/>
<circle cx="110.70" cy="488.64" r="1.60" fill="#fff" stroke="#222" stroke-width="0.8"/>
<circle cx="118.00" cy="489.04" r="1.60" fill="#fff" stroke="#222" stroke-width="0.8"/>
<circle cx="121.60" cy="486.63" r="1.60" fill="#fff" stroke="#222" stroke-width="0.8"/>
<circle cx="114.40" cy="490.25" r="1.60" fill="#fff" stroke="#222" stroke-width="0.8"/>
<circle cx="114.40" cy="494.19" r="1.60" fill="#fff" stroke="#222" stroke-width="0.8"/>
<circle cx="112.30" cy="498.93" r="1.60" fill="#fff" stroke="#222" stroke-width="0.8"/>
<circle cx="116.00" cy="499.73" r="1.60" fill="#fff" stroke="#222" stroke-width="0.8"/>
<circle cx="119.60" cy="499.73" r="1.60" fill="#fff" stroke="#222" stroke-width="0.8"/>
<circle cx="108.70" cy="502.06" r="1.60" fill="#fff" stroke="#222" stroke-width="0.8"/>
<path d="M87.80 439.60 L87.80 434.60 L111.00 434.60 L111.00 439.60" fill="none" stroke="#444" stroke-width="0.9"/>
<path d="M91.00 429.40 L91.00 426.55 M91.00 429.40 L93.71 428.52 M91.00 429.40 L92.68 431.71 M91.00 429.40 L89.32 431.71 M91.00 429.40 L88.29 428.52 " stroke="#111" stroke-width="1.48" stroke-linecap="butt" fill="none"/>
<path d="M97.60 429.40 L97.60 426.55 M97.60 429.40 L100.31 428.52 M97.60 429.40 L99.28 431.71 M97.60 429.40 L95.92 431.71 M97.60 429.40 L94.89 428.52 " stroke="#111" stroke-width="1.48" stroke-linecap="butt" fill="none"/>
<path d="M104.20 429.40 L104.20 426.55 M104.20 429.40 L106.91 428.52 M104.20 429.40 L105.88 431.71 M104.20 429.40 L102.52 431.71 M104.20 429.40 L101.49 428.52 " stroke="#111" stroke-width="1.48" stroke-linecap="butt" fill="none"/>
<text x="41.00" y="550.00" font-size="12" font-weight="bold" transform="rotate(-90 41.00 550.00)" fill="#111">Blood glucose (mmol/L)</text>
<text x="207.80" y="405.80" font-size="15" font-weight="bold" fill="#111">F</text>
<line x1="253.50" y1="419.50" x2="253.50" y2="539.80" stroke="#333" stroke-width="1"/>
<line x1="245.50" y1="419.50" x2="253.70" y2="419.50" stroke="#333" stroke-width="1"/>
<text x="242.90" y="422.20" font-size="11" text-anchor="end" fill="#222">2.5</text>
<line x1="245.50" y1="443.50" x2="253.70" y2="443.50" stroke="#333" stroke-width="1"/>
<text x="242.90" y="446.26" font-size="11" text-anchor="end" fill="#222">2.0</text>
<line x1="245.50" y1="467.50" x2="253.70" y2="467.50" stroke="#333" stroke-width="1"/>
<text x="242.90" y="470.32" font-size="11" text-anchor="end" fill="#222">1.5</text>
<line x1="245.50" y1="491.50" x2="253.70" y2="491.50" stroke="#333" stroke-width="1"/>
<text x="242.90" y="494.38" font-size="11" text-anchor="end" fill="#222">1.0</text>
<line x1="245.50" y1="515.50" x2="253.70" y2="515.50" stroke="#333" stroke-width="1"/>
<text x="242.90" y="518.44" font-size="11" text-anchor="end" fill="#222">0.5</text>
<line x1="245.50" y1="539.50" x2="253.70" y2="539.50" stroke="#333" stroke-width="1"/>
<text x="242.90" y="542.50" font-size="11" text-anchor="end" fill="#222">0.0</text>
<line x1="253.70" y1="539.50" x2="316.50" y2="539.50" stroke="#333" stroke-width="1"/>
<rect x="262.40" y="528.27" width="17.90" height="11.53" fill="#5f5f5f" stroke="#111" stroke-width="1"/>
<rect x="288.90" y="491.70" width="17.40" height="48.10" fill="#9ecbf8" stroke="#111" stroke-width="1"/>
<line x1="271.50" y1="530.18" x2="271.50" y2="525.36" stroke="#333" stroke-width="1.0"/>
<line x1="266.50" y1="525.50" x2="275.50" y2="525.50" stroke="#333" stroke-width="1.0"/>
<line x1="266.50" y1="530.50" x2="275.50" y2="530.50" stroke="#333" stroke-width="1.0"/>
<line x1="297.50" y1="513.09" x2="297.50" y2="470.51" stroke="#333" stroke-width="1.0"/>
<line x1="293.20" y1="470.50" x2="302.20" y2="470.50" stroke="#333" stroke-width="1.0"/>
<line x1="293.20" y1="513.50" x2="302.20" y2="513.50" stroke="#333" stroke-width="1.0"/>
<line x1="271.50" y1="539.80" x2="271.50" y2="543.20" stroke="#333" stroke-width="1"/>
<line x1="297.50" y1="539.80" x2="297.50" y2="543.20" stroke="#333" stroke-width="1"/>
<text x="271.00" y="556.10" font-size="12" font-weight="bold" text-anchor="middle" fill="#111">AL</text>
<text x="297.70" y="556.10" font-size="12" font-weight="bold" text-anchor="middle" fill="#111">IF</text>
<circle cx="278.10" cy="519.11" r="1.60" fill="#fff" stroke="#222" stroke-width="0.8"/>
<circle cx="268.30" cy="522.00" r="1.60" fill="#fff" stroke="#222" stroke-width="0.8"/>
<circle cx="273.20" cy="521.61" r="1.60" fill="#fff" stroke="#222" stroke-width="0.8"/>
<circle cx="263.60" cy="528.25" r="1.60" fill="#fff" stroke="#222" stroke-width="0.8"/>
<circle cx="268.30" cy="527.00" r="1.60" fill="#fff" stroke="#222" stroke-width="0.8"/>
<circle cx="273.20" cy="527.77" r="1.60" fill="#fff" stroke="#222" stroke-width="0.8"/>
<circle cx="278.10" cy="526.71" r="1.60" fill="#fff" stroke="#222" stroke-width="0.8"/>
<circle cx="268.30" cy="531.62" r="1.60" fill="#fff" stroke="#222" stroke-width="0.8"/>
<circle cx="273.20" cy="533.21" r="1.60" fill="#fff" stroke="#222" stroke-width="0.8"/>
<circle cx="268.30" cy="535.47" r="1.60" fill="#fff" stroke="#222" stroke-width="0.8"/>
<circle cx="297.70" cy="444.52" r="1.60" fill="#fff" stroke="#222" stroke-width="0.8"/>
<circle cx="297.90" cy="473.88" r="1.60" fill="#fff" stroke="#222" stroke-width="0.8"/>
<circle cx="297.90" cy="481.57" r="1.60" fill="#fff" stroke="#222" stroke-width="0.8"/>
<circle cx="290.50" cy="494.57" r="1.60" fill="#fff" stroke="#222" stroke-width="0.8"/>
<circle cx="297.90" cy="493.80" r="1.60" fill="#fff" stroke="#222" stroke-width="0.8"/>
<circle cx="297.90" cy="497.69" r="1.60" fill="#fff" stroke="#222" stroke-width="0.8"/>
<circle cx="304.90" cy="497.12" r="1.60" fill="#fff" stroke="#222" stroke-width="0.8"/>
<circle cx="294.30" cy="503.90" r="1.60" fill="#fff" stroke="#222" stroke-width="0.8"/>
<circle cx="301.40" cy="503.90" r="1.60" fill="#fff" stroke="#222" stroke-width="0.8"/>
<circle cx="297.90" cy="526.33" r="1.60" fill="#fff" stroke="#222" stroke-width="0.8"/>
<path d="M274.30 442.30 L274.30 437.50 L298.10 437.50 L298.10 442.30" fill="none" stroke="#444" stroke-width="0.9"/>
<path d="M276.45 432.40 L276.45 429.55 M276.45 432.40 L279.16 431.52 M276.45 432.40 L278.13 434.71 M276.45 432.40 L274.77 434.71 M276.45 432.40 L273.74 431.52 " stroke="#111" stroke-width="1.48" stroke-linecap="butt" fill="none"/>
<path d="M282.95 432.40 L282.95 429.55 M282.95 432.40 L285.66 431.52 M282.95 432.40 L284.63 434.71 M282.95 432.40 L281.27 434.71 M282.95 432.40 L280.24 431.52 " stroke="#111" stroke-width="1.48" stroke-linecap="butt" fill="none"/>
<path d="M289.45 432.40 L289.45 429.55 M289.45 432.40 L292.16 431.52 M289.45 432.40 L291.13 434.71 M289.45 432.40 L287.77 434.71 M289.45 432.40 L286.74 431.52 " stroke="#111" stroke-width="1.48" stroke-linecap="butt" fill="none"/>
<path d="M295.95 432.40 L295.95 429.55 M295.95 432.40 L298.66 431.52 M295.95 432.40 L297.63 434.71 M295.95 432.40 L294.27 434.71 M295.95 432.40 L293.24 431.52 " stroke="#111" stroke-width="1.48" stroke-linecap="butt" fill="none"/>
<text x="222.20" y="540.60" font-size="12" font-weight="bold" transform="rotate(-90 222.20 540.60)" fill="#111">Blood β-HBA (mmol/L)</text>
<text x="362.20" y="405.80" font-size="15" font-weight="bold" fill="#111">G</text>
<line x1="420.50" y1="420.90" x2="420.50" y2="541.30" stroke="#777" stroke-width="1"/>
<line x1="412.20" y1="420.50" x2="420.40" y2="420.50" stroke="#777" stroke-width="1"/>
<text x="410.50" y="423.60" font-size="11" text-anchor="end" fill="#222">0.20</text>
<line x1="412.20" y1="450.50" x2="420.40" y2="450.50" stroke="#777" stroke-width="1"/>
<text x="410.50" y="453.70" font-size="11" text-anchor="end" fill="#222">0.15</text>
<line x1="412.20" y1="481.50" x2="420.40" y2="481.50" stroke="#777" stroke-width="1"/>
<text x="410.50" y="483.80" font-size="11" text-anchor="end" fill="#222">0.10</text>
<line x1="412.20" y1="511.50" x2="420.40" y2="511.50" stroke="#777" stroke-width="1"/>
<text x="410.50" y="513.90" font-size="11" text-anchor="end" fill="#222">0.05</text>
<line x1="412.20" y1="541.50" x2="420.40" y2="541.50" stroke="#777" stroke-width="1"/>
<text x="410.50" y="544.00" font-size="11" text-anchor="end" fill="#222">0.00</text>
<line x1="420.40" y1="541.50" x2="482.60" y2="541.50" stroke="#333" stroke-width="1"/>
<rect x="429.00" y="497.43" width="17.60" height="43.87" fill="#5f5f5f" stroke="#111" stroke-width="1"/>
<rect x="456.30" y="477.99" width="17.20" height="63.31" fill="#9ecbf8" stroke="#111" stroke-width="1"/>
<line x1="437.80" y1="525.65" x2="437.80" y2="468.46" stroke="#a0a0a0" stroke-width="1.5"/>
<line x1="433.30" y1="468.46" x2="442.30" y2="468.46" stroke="#a0a0a0" stroke-width="1.5"/>
<line x1="433.30" y1="525.65" x2="442.30" y2="525.65" stroke="#a0a0a0" stroke-width="1.5"/>
<line x1="464.50" y1="500.36" x2="464.50" y2="455.21" stroke="#333" stroke-width="1.0"/>
<line x1="460.40" y1="455.50" x2="469.40" y2="455.50" stroke="#333" stroke-width="1.0"/>
<line x1="460.40" y1="500.50" x2="469.40" y2="500.50" stroke="#333" stroke-width="1.0"/>
<line x1="437.50" y1="541.30" x2="437.50" y2="544.70" stroke="#333" stroke-width="1"/>
<line x1="464.50" y1="541.30" x2="464.50" y2="544.70" stroke="#333" stroke-width="1"/>
<text x="437.80" y="557.60" font-size="12" font-weight="bold" text-anchor="middle" fill="#111">AL</text>
<text x="464.90" y="557.60" font-size="12" font-weight="bold" text-anchor="middle" fill="#111">IF</text>
<circle cx="430.40" cy="465.03" r="1.60" fill="#fff" stroke="#222" stroke-width="0.8"/>
<circle cx="438.00" cy="466.29" r="1.60" fill="#fff" stroke="#222" stroke-width="0.8"/>
<circle cx="445.10" cy="465.03" r="1.60" fill="#fff" stroke="#222" stroke-width="0.8"/>
<circle cx="438.00" cy="483.03" r="1.60" fill="#fff" stroke="#222" stroke-width="0.8"/>
<circle cx="438.00" cy="491.82" r="1.60" fill="#fff" stroke="#222" stroke-width="0.8"/>
<circle cx="438.00" cy="496.63" r="1.60" fill="#fff" stroke="#222" stroke-width="0.8"/>
<circle cx="438.00" cy="506.50" r="1.60" fill="#fff" stroke="#222" stroke-width="0.8"/>
<circle cx="433.90" cy="529.02" r="1.60" fill="#fff" stroke="#222" stroke-width="0.8"/>
<circle cx="441.50" cy="529.80" r="1.60" fill="#fff" stroke="#222" stroke-width="0.8"/>
<circle cx="438.00" cy="538.89" r="1.60" fill="#fff" stroke="#222" stroke-width="0.8"/>
<circle cx="464.70" cy="427.70" r="1.60" fill="#fff" stroke="#222" stroke-width="0.8"/>
<circle cx="464.70" cy="460.63" r="1.60" fill="#fff" stroke="#222" stroke-width="0.8"/>
<circle cx="461.00" cy="471.47" r="1.60" fill="#fff" stroke="#222" stroke-width="0.8"/>
<circle cx="468.40" cy="469.66" r="1.60" fill="#fff" stroke="#222" stroke-width="0.8"/>
<circle cx="464.70" cy="475.08" r="1.60" fill="#fff" stroke="#222" stroke-width="0.8"/>
<circle cx="461.00" cy="488.62" r="1.60" fill="#fff" stroke="#222" stroke-width="0.8"/>
<circle cx="468.40" cy="488.62" r="1.60" fill="#fff" stroke="#222" stroke-width="0.8"/>
<circle cx="461.00" cy="496.75" r="1.60" fill="#fff" stroke="#222" stroke-width="0.8"/>
<circle cx="468.40" cy="497.35" r="1.60" fill="#fff" stroke="#222" stroke-width="0.8"/>
<circle cx="464.70" cy="503.01" r="1.60" fill="#fff" stroke="#222" stroke-width="0.8"/>
<path d="M442.80 424.50 L442.80 419.30 L464.90 419.30 L464.90 424.50" fill="none" stroke="#444" stroke-width="0.9"/>
<text x="383.40" y="541.30" font-size="12" font-weight="bold" transform="rotate(-90 383.40 541.30)" fill="#111">Blood AcAc (mmol/L)</text>
<text x="454.00" y="416.70" font-size="10.5" text-anchor="middle" fill="#111">P=0.25</text>
<text x="544.40" y="406.30" font-size="15" font-weight="bold" fill="#111">H</text>
<line x1="599.50" y1="421.00" x2="599.50" y2="540.90" stroke="#333" stroke-width="1"/>
<line x1="591.20" y1="421.50" x2="599.40" y2="421.50" stroke="#333" stroke-width="1"/>
<text x="588.60" y="423.70" font-size="11" text-anchor="end" fill="#222">2.5</text>
<line x1="591.20" y1="444.50" x2="599.40" y2="444.50" stroke="#333" stroke-width="1"/>
<text x="588.60" y="447.68" font-size="11" text-anchor="end" fill="#222">2.0</text>
<line x1="591.20" y1="468.50" x2="599.40" y2="468.50" stroke="#333" stroke-width="1"/>
<text x="588.60" y="471.66" font-size="11" text-anchor="end" fill="#222">1.5</text>
<line x1="591.20" y1="492.50" x2="599.40" y2="492.50" stroke="#333" stroke-width="1"/>
<text x="588.60" y="495.64" font-size="11" text-anchor="end" fill="#222">1.0</text>
<line x1="591.20" y1="516.50" x2="599.40" y2="516.50" stroke="#333" stroke-width="1"/>
<text x="588.60" y="519.62" font-size="11" text-anchor="end" fill="#222">0.5</text>
<line x1="591.20" y1="540.50" x2="599.40" y2="540.50" stroke="#333" stroke-width="1"/>
<text x="588.60" y="543.60" font-size="11" text-anchor="end" fill="#222">0.0</text>
<line x1="599.40" y1="540.50" x2="662.60" y2="540.50" stroke="#333" stroke-width="1"/>
<rect x="608.50" y="525.09" width="17.40" height="15.81" fill="#5f5f5f" stroke="#111" stroke-width="1"/>
<rect x="635.60" y="488.64" width="17.00" height="52.26" fill="#9ecbf8" stroke="#111" stroke-width="1"/>
<line x1="617.50" y1="529.39" x2="617.50" y2="519.08" stroke="#333" stroke-width="1.0"/>
<line x1="612.60" y1="519.50" x2="621.60" y2="519.50" stroke="#333" stroke-width="1.0"/>
<line x1="612.60" y1="529.50" x2="621.60" y2="529.50" stroke="#333" stroke-width="1.0"/>
<line x1="643.50" y1="510.21" x2="643.50" y2="466.08" stroke="#333" stroke-width="1.0"/>
<line x1="639.30" y1="466.50" x2="648.30" y2="466.50" stroke="#333" stroke-width="1.0"/>
<line x1="639.30" y1="510.50" x2="648.30" y2="510.50" stroke="#333" stroke-width="1.0"/>
<line x1="617.50" y1="540.90" x2="617.50" y2="544.30" stroke="#333" stroke-width="1"/>
<line x1="643.50" y1="540.90" x2="643.50" y2="544.30" stroke="#333" stroke-width="1"/>
<text x="617.10" y="557.20" font-size="12" font-weight="bold" text-anchor="middle" fill="#111">AL</text>
<text x="643.80" y="557.20" font-size="12" font-weight="bold" text-anchor="middle" fill="#111">IF</text>
<circle cx="617.20" cy="514.28" r="1.60" fill="#fff" stroke="#222" stroke-width="0.8"/>
<circle cx="609.90" cy="518.69" r="1.60" fill="#fff" stroke="#222" stroke-width="0.8"/>
<circle cx="609.90" cy="522.39" r="1.60" fill="#fff" stroke="#222" stroke-width="0.8"/>
<circle cx="624.50" cy="521.72" r="1.60" fill="#fff" stroke="#222" stroke-width="0.8"/>
<circle cx="617.20" cy="525.31" r="1.60" fill="#fff" stroke="#222" stroke-width="0.8"/>
<circle cx="624.50" cy="525.31" r="1.60" fill="#fff" stroke="#222" stroke-width="0.8"/>
<circle cx="609.90" cy="527.95" r="1.60" fill="#fff" stroke="#222" stroke-width="0.8"/>
<circle cx="617.20" cy="530.35" r="1.60" fill="#fff" stroke="#222" stroke-width="0.8"/>
<circle cx="624.50" cy="530.35" r="1.60" fill="#fff" stroke="#222" stroke-width="0.8"/>
<circle cx="609.90" cy="531.31" r="1.60" fill="#fff" stroke="#222" stroke-width="0.8"/>
<circle cx="643.90" cy="438.27" r="1.60" fill="#fff" stroke="#222" stroke-width="0.8"/>
<circle cx="643.90" cy="469.92" r="1.60" fill="#fff" stroke="#222" stroke-width="0.8"/>
<circle cx="643.90" cy="478.79" r="1.60" fill="#fff" stroke="#222" stroke-width="0.8"/>
<circle cx="637.00" cy="492.70" r="1.60" fill="#fff" stroke="#222" stroke-width="0.8"/>
<circle cx="643.90" cy="491.50" r="1.60" fill="#fff" stroke="#222" stroke-width="0.8"/>
<circle cx="643.90" cy="495.19" r="1.60" fill="#fff" stroke="#222" stroke-width="0.8"/>
<circle cx="650.90" cy="492.70" r="1.60" fill="#fff" stroke="#222" stroke-width="0.8"/>
<circle cx="650.90" cy="499.17" r="1.60" fill="#fff" stroke="#222" stroke-width="0.8"/>
<circle cx="643.90" cy="501.09" r="1.60" fill="#fff" stroke="#222" stroke-width="0.8"/>
<circle cx="643.90" cy="521.72" r="1.60" fill="#fff" stroke="#222" stroke-width="0.8"/>
<path d="M620.60 434.00 L620.60 429.20 L643.80 429.20 L643.80 434.00" fill="none" stroke="#444" stroke-width="0.9"/>
<path d="M622.75 425.10 L622.75 422.40 M622.75 425.10 L625.32 424.27 M622.75 425.10 L624.34 427.28 M622.75 425.10 L621.16 427.28 M622.75 425.10 L620.18 424.27 " stroke="#111" stroke-width="1.40" stroke-linecap="butt" fill="none"/>
<path d="M628.85 425.10 L628.85 422.40 M628.85 425.10 L631.42 424.27 M628.85 425.10 L630.44 427.28 M628.85 425.10 L627.26 427.28 M628.85 425.10 L626.28 424.27 " stroke="#111" stroke-width="1.40" stroke-linecap="butt" fill="none"/>
<path d="M634.95 425.10 L634.95 422.40 M634.95 425.10 L637.52 424.27 M634.95 425.10 L636.54 427.28 M634.95 425.10 L633.36 427.28 M634.95 425.10 L632.38 424.27 " stroke="#111" stroke-width="1.40" stroke-linecap="butt" fill="none"/>
<path d="M641.05 425.10 L641.05 422.40 M641.05 425.10 L643.62 424.27 M641.05 425.10 L642.64 427.28 M641.05 425.10 L639.46 427.28 M641.05 425.10 L638.48 424.27 " stroke="#111" stroke-width="1.40" stroke-linecap="butt" fill="none"/>
<text x="568.80" y="546.70" font-size="12" font-weight="bold" transform="rotate(-90 568.80 546.70)" fill="#111">Blood ketone (mmol/L)</text>
<text x="18.40" y="582.80" font-size="13.5" font-weight="bold" fill="#111">I</text>
<text x="44.30" y="597.60" font-size="12" font-weight="bold" fill="#111">OMR lateral view</text>
<path d="M85.4 607.4 L98.2 607.4 L98.2 620.6 L91.8 626.0 L85.4 620.6 Z" fill="#fff" stroke="#222" stroke-width="0.8"/>
<path d="M86.8 621.6 L91.8 626 L96.8 621.6" fill="none" stroke="#888" stroke-width="0.5"/>
<text x="101.60" y="616.00" font-size="10.5" fill="#111">Camera</text>
<rect x="51.90" y="628.20" width="72.70" height="82.20" fill="url(#pDrum)"/>
<rect x="45.80" y="628.20" width="6.10" height="82.20" fill="#3c3434"/>
<rect x="124.60" y="628.20" width="6.10" height="82.20" fill="#3c3434"/>
<rect x="46.10" y="622.60" width="31.60" height="5.60" fill="#dcdcdc" stroke="#999" stroke-width="0.6"/>
<rect x="105.30" y="622.60" width="31.90" height="5.60" fill="#dcdcdc" stroke="#999" stroke-width="0.6"/>
<rect x="45.40" y="710.60" width="92.00" height="5.80" fill="#dcdcdc" stroke="#888" stroke-width="0.7"/>
<rect x="89.60" y="672.40" width="4.90" height="38.20" fill="#8a8a8a" stroke="#555" stroke-width="0.5"/>
<rect x="80.60" y="670.40" width="21.60" height="2.20" fill="#9a9a9a" stroke="#555" stroke-width="0.5"/>
<path d="M73.6 662.0 C74.2 660.4 76.0 659.0 78.0 658.4 C79.0 656.6 81.4 655.4 83.2 656.2 C85.0 656.6 86.5 657.0 88.8 656.8 C93.5 656.6 97.2 659.8 97.6 664.0 C97.8 666.0 98.0 667.2 98.4 668.0 C104 668.4 112 669.4 122.4 671.0 L122.4 671.8 C112 670.6 104 670.2 97.6 670.2 L82.0 670.4 C80.6 670.0 80.0 669.0 80.4 668.0 C78.6 666.8 77.0 665.6 76.4 664.6 C75.0 664.0 73.8 663.2 73.6 662.0 Z" fill="#000"/>
<ellipse cx="82.4" cy="658.3" rx="1.3" ry="0.9" fill="#d8d8d8"/>
<circle cx="77.8" cy="661.0" r="0.8" fill="#fff"/>
<rect x="55.00" y="719.30" width="1.60" height="23.40" fill="#5a5252"/>
<rect x="59.20" y="719.30" width="1.30" height="23.40" fill="#5a5252"/>
<rect x="63.60" y="719.30" width="1.50" height="23.40" fill="#5a5252"/>
<rect x="71.90" y="719.30" width="1.30" height="23.40" fill="#5a5252"/>
<rect x="74.50" y="719.30" width="1.20" height="23.40" fill="#5a5252"/>
<rect x="76.90" y="719.30" width="1.20" height="23.40" fill="#5a5252"/>
<rect x="79.30" y="719.30" width="1.20" height="23.40" fill="#5a5252"/>
<rect x="81.10" y="719.30" width="0.90" height="23.40" fill="#5a5252"/>
<rect x="87.30" y="719.30" width="1.20" height="23.40" fill="#5a5252"/>
<rect x="89.70" y="719.30" width="1.20" height="23.40" fill="#5a5252"/>
<rect x="91.90" y="719.30" width="1.00" height="23.40" fill="#5a5252"/>
<rect x="94.70" y="719.30" width="1.20" height="23.40" fill="#5a5252"/>
<rect x="102.20" y="719.30" width="7.80" height="23.40" fill="#6e6868"/>
<rect x="117.60" y="719.30" width="8.70" height="23.40" fill="#453e3e"/>
<line x1="79.60" y1="746.50" x2="90.00" y2="746.50" stroke="#111" stroke-width="0.9"/>
<path d="M88.4 744.8 L92.4 746.7 L88.4 748.6 Z" fill="#111"/>
<text x="34.00" y="758.40" font-size="12.1" font-weight="bold" fill="#111">Spatial frequency (cpd)</text>
<text x="248.60" y="582.90" font-size="15" font-weight="bold" fill="#111">J</text>
<text x="318.40" y="596.40" font-size="11.6" font-weight="bold" fill="#111">Dark_OMR</text>
<line x1="267.50" y1="610.10" x2="267.50" y2="729.30" stroke="#333" stroke-width="1"/>
<line x1="263.40" y1="610.50" x2="267.80" y2="610.50" stroke="#333" stroke-width="1"/>
<text x="262.00" y="613.60" font-size="11.3" text-anchor="end" fill="#222">20</text>
<line x1="263.40" y1="639.50" x2="267.80" y2="639.50" stroke="#333" stroke-width="1"/>
<text x="262.00" y="643.40" font-size="11.3" text-anchor="end" fill="#222">15</text>
<line x1="263.40" y1="669.50" x2="267.80" y2="669.50" stroke="#333" stroke-width="1"/>
<text x="262.00" y="673.20" font-size="11.3" text-anchor="end" fill="#222">10</text>
<line x1="263.40" y1="699.50" x2="267.80" y2="699.50" stroke="#333" stroke-width="1"/>
<text x="262.00" y="703.00" font-size="11.3" text-anchor="end" fill="#222">5</text>
<line x1="263.40" y1="729.50" x2="267.80" y2="729.50" stroke="#333" stroke-width="1"/>
<text x="262.00" y="732.80" font-size="11.3" text-anchor="end" fill="#222">0</text>
<line x1="267.80" y1="729.50" x2="449.20" y2="729.50" stroke="#333" stroke-width="1"/>
<line x1="276.50" y1="729.30" x2="276.50" y2="734.20" stroke="#333" stroke-width="1"/>
<text x="280.20" y="740.90" font-size="11.0" text-anchor="end" transform="rotate(-45 280.20 740.90)" fill="#222">0.05</text>
<line x1="293.50" y1="729.30" x2="293.50" y2="734.20" stroke="#333" stroke-width="1"/>
<text x="296.49" y="740.90" font-size="11.0" text-anchor="end" transform="rotate(-45 296.49 740.90)" fill="#222">0.10</text>
<line x1="309.50" y1="729.30" x2="309.50" y2="734.20" stroke="#333" stroke-width="1"/>
<text x="312.78" y="740.90" font-size="11.0" text-anchor="end" transform="rotate(-45 312.78 740.90)" fill="#222">0.15</text>
<line x1="325.50" y1="729.30" x2="325.50" y2="734.20" stroke="#333" stroke-width="1"/>
<text x="329.07" y="740.90" font-size="11.0" text-anchor="end" transform="rotate(-45 329.07 740.90)" fill="#222">0.20</text>
<line x1="341.50" y1="729.30" x2="341.50" y2="734.20" stroke="#333" stroke-width="1"/>
<text x="345.36" y="740.90" font-size="11.0" text-anchor="end" transform="rotate(-45 345.36 740.90)" fill="#222">0.25</text>
<line x1="358.50" y1="729.30" x2="358.50" y2="734.20" stroke="#333" stroke-width="1"/>
<text x="361.65" y="740.90" font-size="11.0" text-anchor="end" transform="rotate(-45 361.65 740.90)" fill="#222">0.30</text>
<line x1="374.50" y1="729.30" x2="374.50" y2="734.20" stroke="#333" stroke-width="1"/>
<text x="377.94" y="740.90" font-size="11.0" text-anchor="end" transform="rotate(-45 377.94 740.90)" fill="#222">0.35</text>
<line x1="390.50" y1="729.30" x2="390.50" y2="734.20" stroke="#333" stroke-width="1"/>
<text x="394.23" y="740.90" font-size="11.0" text-anchor="end" transform="rotate(-45 394.23 740.90)" fill="#222">0.40</text>
<line x1="407.50" y1="729.30" x2="407.50" y2="734.20" stroke="#333" stroke-width="1"/>
<text x="410.52" y="740.90" font-size="11.0" text-anchor="end" transform="rotate(-45 410.52 740.90)" fill="#222">0.45</text>
<line x1="423.50" y1="729.30" x2="423.50" y2="734.20" stroke="#333" stroke-width="1"/>
<text x="426.81" y="740.90" font-size="11.0" text-anchor="end" transform="rotate(-45 426.81 740.90)" fill="#222">0.50</text>
<line x1="439.50" y1="729.30" x2="439.50" y2="734.20" stroke="#333" stroke-width="1"/>
<text x="443.10" y="740.90" font-size="11.0" text-anchor="end" transform="rotate(-45 443.10 740.90)" fill="#222">0.55</text>
<text x="246.60" y="744.00" font-size="11.7" font-weight="bold" transform="rotate(-90 246.60 744.00)" fill="#111">Head rotations (times/min)</text>
<text x="279.20" y="766.30" font-size="10.7" font-weight="bold" fill="#111">Spatial frequency (cpd)</text>
<line x1="276.50" y1="686.98" x2="276.50" y2="672.08" stroke="#33d633" stroke-width="1"/>
<line x1="273.80" y1="672.50" x2="279.80" y2="672.50" stroke="#33d633" stroke-width="1"/>
<line x1="276.50" y1="693.54" x2="276.50" y2="682.81" stroke="#ee8cee" stroke-width="1"/>
<line x1="273.80" y1="682.50" x2="279.80" y2="682.50" stroke="#ee8cee" stroke-width="1"/>
<line x1="276.50" y1="676.85" x2="276.50" y2="664.93" stroke="#8888fa" stroke-width="1"/>
<line x1="273.80" y1="664.50" x2="279.80" y2="664.50" stroke="#8888fa" stroke-width="1"/>
<line x1="276.50" y1="682.22" x2="276.50" y2="678.04" stroke="#555555" stroke-width="1"/>
<line x1="273.80" y1="678.50" x2="279.80" y2="678.50" stroke="#555555" stroke-width="1"/>
<line x1="293.50" y1="660.76" x2="293.50" y2="633.94" stroke="#33d633" stroke-width="1"/>
<line x1="290.09" y1="633.50" x2="296.09" y2="633.50" stroke="#33d633" stroke-width="1"/>
<line x1="293.50" y1="681.62" x2="293.50" y2="658.97" stroke="#ee8cee" stroke-width="1"/>
<line x1="290.09" y1="658.50" x2="296.09" y2="658.50" stroke="#ee8cee" stroke-width="1"/>
<line x1="293.50" y1="672.08" x2="293.50" y2="653.01" stroke="#8888fa" stroke-width="1"/>
<line x1="290.09" y1="653.50" x2="296.09" y2="653.50" stroke="#8888fa" stroke-width="1"/>
<line x1="293.50" y1="681.62" x2="293.50" y2="678.04" stroke="#555555" stroke-width="1"/>
<line x1="290.09" y1="678.50" x2="296.09" y2="678.50" stroke="#555555" stroke-width="1"/>
<line x1="309.50" y1="677.45" x2="309.50" y2="650.03" stroke="#33d633" stroke-width="1"/>
<line x1="306.38" y1="650.50" x2="312.38" y2="650.50" stroke="#33d633" stroke-width="1"/>
<line x1="309.50" y1="687.58" x2="309.50" y2="662.55" stroke="#ee8cee" stroke-width="1"/>
<line x1="306.38" y1="662.50" x2="312.38" y2="662.50" stroke="#ee8cee" stroke-width="1"/>
<line x1="309.50" y1="683.41" x2="309.50" y2="672.08" stroke="#8888fa" stroke-width="1"/>
<line x1="306.38" y1="672.50" x2="312.38" y2="672.50" stroke="#8888fa" stroke-width="1"/>
<line x1="309.50" y1="689.37" x2="309.50" y2="685.20" stroke="#555555" stroke-width="1"/>
<line x1="306.38" y1="685.50" x2="312.38" y2="685.50" stroke="#555555" stroke-width="1"/>
<line x1="325.50" y1="694.14" x2="325.50" y2="682.81" stroke="#33d633" stroke-width="1"/>
<line x1="322.67" y1="682.50" x2="328.67" y2="682.50" stroke="#33d633" stroke-width="1"/>
<line x1="325.50" y1="698.31" x2="325.50" y2="679.24" stroke="#ee8cee" stroke-width="1"/>
<line x1="322.67" y1="679.50" x2="328.67" y2="679.50" stroke="#ee8cee" stroke-width="1"/>
<line x1="325.50" y1="692.35" x2="325.50" y2="675.06" stroke="#8888fa" stroke-width="1"/>
<line x1="322.67" y1="675.50" x2="328.67" y2="675.50" stroke="#8888fa" stroke-width="1"/>
<line x1="325.50" y1="699.50" x2="325.50" y2="695.92" stroke="#555555" stroke-width="1"/>
<line x1="322.67" y1="695.50" x2="328.67" y2="695.50" stroke="#555555" stroke-width="1"/>
<line x1="341.50" y1="697.12" x2="341.50" y2="679.83" stroke="#33d633" stroke-width="1"/>
<line x1="338.96" y1="679.50" x2="344.96" y2="679.50" stroke="#33d633" stroke-width="1"/>
<line x1="341.50" y1="702.48" x2="341.50" y2="686.39" stroke="#ee8cee" stroke-width="1"/>
<line x1="338.96" y1="686.50" x2="344.96" y2="686.50" stroke="#ee8cee" stroke-width="1"/>
<line x1="341.50" y1="700.10" x2="341.50" y2="692.35" stroke="#8888fa" stroke-width="1"/>
<line x1="338.96" y1="692.50" x2="344.96" y2="692.50" stroke="#8888fa" stroke-width="1"/>
<line x1="341.50" y1="706.65" x2="341.50" y2="703.67" stroke="#555555" stroke-width="1"/>
<line x1="338.96" y1="703.50" x2="344.96" y2="703.50" stroke="#555555" stroke-width="1"/>
<line x1="358.50" y1="700.69" x2="358.50" y2="689.96" stroke="#33d633" stroke-width="1"/>
<line x1="355.25" y1="689.50" x2="361.25" y2="689.50" stroke="#33d633" stroke-width="1"/>
<line x1="358.50" y1="713.80" x2="358.50" y2="705.46" stroke="#ee8cee" stroke-width="1"/>
<line x1="355.25" y1="705.50" x2="361.25" y2="705.50" stroke="#ee8cee" stroke-width="1"/>
<line x1="358.50" y1="706.06" x2="358.50" y2="699.50" stroke="#8888fa" stroke-width="1"/>
<line x1="355.25" y1="699.50" x2="361.25" y2="699.50" stroke="#8888fa" stroke-width="1"/>
<line x1="358.50" y1="715.59" x2="358.50" y2="712.61" stroke="#555555" stroke-width="1"/>
<line x1="355.25" y1="712.50" x2="361.25" y2="712.50" stroke="#555555" stroke-width="1"/>
<line x1="374.50" y1="716.78" x2="374.50" y2="710.23" stroke="#33d633" stroke-width="1"/>
<line x1="371.54" y1="710.50" x2="377.54" y2="710.50" stroke="#33d633" stroke-width="1"/>
<line x1="374.50" y1="722.15" x2="374.50" y2="717.38" stroke="#ee8cee" stroke-width="1"/>
<line x1="371.54" y1="717.50" x2="377.54" y2="717.50" stroke="#ee8cee" stroke-width="1"/>
<line x1="374.50" y1="713.80" x2="374.50" y2="708.44" stroke="#8888fa" stroke-width="1"/>
<line x1="371.54" y1="708.50" x2="377.54" y2="708.50" stroke="#8888fa" stroke-width="1"/>
<line x1="374.50" y1="724.53" x2="374.50" y2="722.15" stroke="#555555" stroke-width="1"/>
<line x1="371.54" y1="722.50" x2="377.54" y2="722.50" stroke="#555555" stroke-width="1"/>
<line x1="390.50" y1="725.72" x2="390.50" y2="720.96" stroke="#33d633" stroke-width="1"/>
<line x1="387.83" y1="720.50" x2="393.83" y2="720.50" stroke="#33d633" stroke-width="1"/>
<line x1="390.50" y1="727.51" x2="390.50" y2="724.53" stroke="#ee8cee" stroke-width="1"/>
<line x1="387.83" y1="724.50" x2="393.83" y2="724.50" stroke="#ee8cee" stroke-width="1"/>
<line x1="390.50" y1="718.57" x2="390.50" y2="714.40" stroke="#8888fa" stroke-width="1"/>
<line x1="387.83" y1="714.50" x2="393.83" y2="714.50" stroke="#8888fa" stroke-width="1"/>
<line x1="407.50" y1="728.70" x2="407.50" y2="725.72" stroke="#33d633" stroke-width="1"/>
<line x1="404.12" y1="725.50" x2="410.12" y2="725.50" stroke="#33d633" stroke-width="1"/>
<line x1="407.50" y1="723.94" x2="407.50" y2="719.17" stroke="#8888fa" stroke-width="1"/>
<line x1="404.12" y1="719.50" x2="410.12" y2="719.50" stroke="#8888fa" stroke-width="1"/>
<polyline points="276.80,693.54 293.09,681.62 309.38,687.58 325.67,698.31 341.96,702.48 358.25,713.80 374.54,722.15 390.83,727.51 407.12,729.30 423.41,729.30 439.70,729.30" fill="none" stroke="#ee8cee" stroke-width="1.15" stroke-linejoin="round"/>
<polyline points="276.80,686.98 293.09,660.76 309.38,677.45 325.67,694.14 341.96,697.12 358.25,700.69 374.54,716.78 390.83,725.72 407.12,728.70 423.41,729.30 439.70,729.30" fill="none" stroke="#33d633" stroke-width="1.15" stroke-linejoin="round"/>
<polyline points="276.80,676.85 293.09,672.08 309.38,683.41 325.67,692.35 341.96,700.10 358.25,706.06 374.54,713.80 390.83,718.57 407.12,723.94 423.41,729.00 439.70,729.30" fill="none" stroke="#8888fa" stroke-width="1.15" stroke-linejoin="round"/>
<polyline points="276.80,682.22 293.09,681.62 309.38,689.37 325.67,699.50 341.96,706.65 358.25,715.59 374.54,724.53 390.83,728.11 407.12,729.30 423.41,729.30 439.70,729.30" fill="none" stroke="#555555" stroke-width="1.35" stroke-linejoin="round"/>
<path d="M276.80 690.57 L279.50 695.56 L274.10 695.56 Z" fill="#fbeefb" stroke="#222" stroke-width="0.9"/>
<path d="M293.09 678.65 L295.79 683.64 L290.39 683.64 Z" fill="#fbeefb" stroke="#222" stroke-width="0.9"/>
<path d="M309.38 684.61 L312.08 689.60 L306.68 689.60 Z" fill="#fbeefb" stroke="#222" stroke-width="0.9"/>
<path d="M325.67 695.34 L328.37 700.33 L322.97 700.33 Z" fill="#fbeefb" stroke="#222" stroke-width="0.9"/>
<path d="M341.96 699.51 L344.66 704.50 L339.26 704.50 Z" fill="#fbeefb" stroke="#222" stroke-width="0.9"/>
<path d="M358.25 710.83 L360.95 715.83 L355.55 715.83 Z" fill="#fbeefb" stroke="#222" stroke-width="0.9"/>
<path d="M374.54 719.18 L377.24 724.17 L371.84 724.17 Z" fill="#fbeefb" stroke="#222" stroke-width="0.9"/>
<path d="M390.83 724.54 L393.53 729.54 L388.13 729.54 Z" fill="#fbeefb" stroke="#222" stroke-width="0.9"/>
<path d="M407.12 726.33 L409.82 731.32 L404.42 731.32 Z" fill="#fbeefb" stroke="#222" stroke-width="0.9"/>
<path d="M423.41 726.33 L426.11 731.32 L420.71 731.32 Z" fill="#fbeefb" stroke="#222" stroke-width="0.9"/>
<path d="M439.70 726.33 L442.40 731.32 L437.00 731.32 Z" fill="#fbeefb" stroke="#222" stroke-width="0.9"/>
<path d="M276.80 689.84 L279.40 685.03 L274.20 685.03 Z" fill="#cfeecf" stroke="#1f5a1f" stroke-width="1.0"/>
<path d="M293.09 663.62 L295.69 658.81 L290.49 658.81 Z" fill="#cfeecf" stroke="#1f5a1f" stroke-width="1.0"/>
<path d="M309.38 680.31 L311.98 675.50 L306.78 675.50 Z" fill="#cfeecf" stroke="#1f5a1f" stroke-width="1.0"/>
<path d="M325.67 697.00 L328.27 692.19 L323.07 692.19 Z" fill="#cfeecf" stroke="#1f5a1f" stroke-width="1.0"/>
<path d="M341.96 699.98 L344.56 695.17 L339.36 695.17 Z" fill="#cfeecf" stroke="#1f5a1f" stroke-width="1.0"/>
<path d="M358.25 703.55 L360.85 698.74 L355.65 698.74 Z" fill="#cfeecf" stroke="#1f5a1f" stroke-width="1.0"/>
<path d="M374.54 719.64 L377.14 714.83 L371.94 714.83 Z" fill="#cfeecf" stroke="#1f5a1f" stroke-width="1.0"/>
<path d="M390.83 728.58 L393.43 723.77 L388.23 723.77 Z" fill="#cfeecf" stroke="#1f5a1f" stroke-width="1.0"/>
<path d="M407.12 731.56 L409.72 726.75 L404.52 726.75 Z" fill="#cfeecf" stroke="#1f5a1f" stroke-width="1.0"/>
<path d="M423.41 732.16 L426.01 727.35 L420.81 727.35 Z" fill="#cfeecf" stroke="#1f5a1f" stroke-width="1.0"/>
<path d="M439.70 732.16 L442.30 727.35 L437.10 727.35 Z" fill="#cfeecf" stroke="#1f5a1f" stroke-width="1.0"/>
<rect x="274.25" y="674.30" width="5.10" height="5.10" fill="#8ccaf2" stroke="#2a3a4a" stroke-width="0.9"/>
<rect x="290.54" y="669.53" width="5.10" height="5.10" fill="#8ccaf2" stroke="#2a3a4a" stroke-width="0.9"/>
<rect x="306.83" y="680.86" width="5.10" height="5.10" fill="#8ccaf2" stroke="#2a3a4a" stroke-width="0.9"/>
<rect x="323.12" y="689.80" width="5.10" height="5.10" fill="#8ccaf2" stroke="#2a3a4a" stroke-width="0.9"/>
<rect x="339.41" y="697.55" width="5.10" height="5.10" fill="#8ccaf2" stroke="#2a3a4a" stroke-width="0.9"/>
<rect x="355.70" y="703.51" width="5.10" height="5.10" fill="#8ccaf2" stroke="#2a3a4a" stroke-width="0.9"/>
<rect x="371.99" y="711.25" width="5.10" height="5.10" fill="#8ccaf2" stroke="#2a3a4a" stroke-width="0.9"/>
<rect x="388.28" y="716.02" width="5.10" height="5.10" fill="#8ccaf2" stroke="#2a3a4a" stroke-width="0.9"/>
<rect x="404.57" y="721.39" width="5.10" height="5.10" fill="#8ccaf2" stroke="#2a3a4a" stroke-width="0.9"/>
<rect x="420.86" y="726.45" width="5.10" height="5.10" fill="#8ccaf2" stroke="#2a3a4a" stroke-width="0.9"/>
<rect x="437.15" y="726.75" width="5.10" height="5.10" fill="#8ccaf2" stroke="#2a3a4a" stroke-width="0.9"/>
<circle cx="276.80" cy="682.22" r="2.70" fill="#555" stroke="#3a3a3a" stroke-width="0.5"/>
<circle cx="293.09" cy="681.62" r="2.70" fill="#555" stroke="#3a3a3a" stroke-width="0.5"/>
<circle cx="309.38" cy="689.37" r="2.70" fill="#555" stroke="#3a3a3a" stroke-width="0.5"/>
<circle cx="325.67" cy="699.50" r="2.70" fill="#555" stroke="#3a3a3a" stroke-width="0.5"/>
<circle cx="341.96" cy="706.65" r="2.70" fill="#555" stroke="#3a3a3a" stroke-width="0.5"/>
<circle cx="358.25" cy="715.59" r="2.70" fill="#555" stroke="#3a3a3a" stroke-width="0.5"/>
<circle cx="374.54" cy="724.53" r="2.70" fill="#555" stroke="#3a3a3a" stroke-width="0.5"/>
<circle cx="390.83" cy="728.11" r="2.70" fill="#555" stroke="#3a3a3a" stroke-width="0.5"/>
<circle cx="407.12" cy="729.30" r="2.70" fill="#555" stroke="#3a3a3a" stroke-width="0.5"/>
<circle cx="423.41" cy="729.30" r="2.70" fill="#555" stroke="#3a3a3a" stroke-width="0.5"/>
<circle cx="439.70" cy="729.30" r="2.70" fill="#555" stroke="#3a3a3a" stroke-width="0.5"/>
<line x1="379.60" y1="622.50" x2="392.40" y2="622.50" stroke="#555555" stroke-width="1.2"/>
<circle cx="386.10" cy="622.00" r="2.60" fill="#555" stroke="#3a3a3a" stroke-width="0.7"/>
<text x="394.30" y="626.10" font-size="12.0" fill="#222">AL+PBS</text>
<line x1="379.60" y1="637.50" x2="392.40" y2="637.50" stroke="#8888fa" stroke-width="1.2"/>
<rect x="383.50" y="634.80" width="5.20" height="5.20" fill="#8ccaf2" stroke="#2a3a4a" stroke-width="0.7"/>
<text x="394.30" y="641.50" font-size="12.0" fill="#222">IF+PBS</text>
<line x1="379.60" y1="654.50" x2="392.40" y2="654.50" stroke="#ee8cee" stroke-width="1.2"/>
<path d="M386.10 651.14 L388.70 655.95 L383.50 655.95 Z" fill="#fbeefb" stroke="#222" stroke-width="0.7"/>
<text x="394.30" y="658.10" font-size="12.0" fill="#222">AL+NaIO<tspan font-size="7.6" dy="0.8">3</tspan></text>
<line x1="379.60" y1="670.50" x2="392.40" y2="670.50" stroke="#33d633" stroke-width="1.2"/>
<path d="M386.10 673.56 L388.70 668.75 L383.50 668.75 Z" fill="#5a9a3a" stroke="#1f5a1f" stroke-width="0.7"/>
<text x="394.30" y="674.80" font-size="12.0" fill="#222">IF+NaIO<tspan font-size="7.6" dy="0.8">3</tspan></text>
<path d="M451.5 618.1 L458.5 618.1 L458.5 648.8 L451.5 648.8" fill="none" stroke="#444" stroke-width="1"/>
<path d="M451.5 652.4 L458.5 652.4 L458.5 673.0 L451.5 673.0" fill="none" stroke="#444" stroke-width="1"/>
<path d="M463.75 633.90 L463.75 631.25 M463.75 633.90 L466.27 633.08 M463.75 633.90 L465.31 636.04 M463.75 633.90 L462.19 636.04 M463.75 633.90 L461.23 633.08 " stroke="#111" stroke-width="1.30" stroke-linecap="butt" fill="none"/>
<path d="M463.75 664.30 L463.75 661.65 M463.75 664.30 L466.27 663.48 M463.75 664.30 L465.31 666.44 M463.75 664.30 L462.19 666.44 M463.75 664.30 L461.23 663.48 " stroke="#111" stroke-width="1.30" stroke-linecap="butt" fill="none"/>
<path d="M469.35 664.30 L469.35 661.65 M469.35 664.30 L471.87 663.48 M469.35 664.30 L470.91 666.44 M469.35 664.30 L467.79 666.44 M469.35 664.30 L466.83 663.48 " stroke="#111" stroke-width="1.30" stroke-linecap="butt" fill="none"/>
<text x="531.60" y="583.30" font-size="15" font-weight="bold" fill="#111">K</text>
<text x="554.40" y="596.10" font-size="10.8" font-weight="bold" fill="#111">Dark_Visual acuity</text>
<line x1="568.50" y1="621.80" x2="568.50" y2="740.80" stroke="#333" stroke-width="1"/>
<line x1="563.60" y1="621.50" x2="568.80" y2="621.50" stroke="#333" stroke-width="1"/>
<text x="563.20" y="625.70" font-size="11.2" text-anchor="end" fill="#222">0.6</text>
<line x1="563.60" y1="651.50" x2="568.80" y2="651.50" stroke="#333" stroke-width="1"/>
<text x="563.20" y="655.45" font-size="11.2" text-anchor="end" fill="#222">0.5</text>
<line x1="563.60" y1="681.50" x2="568.80" y2="681.50" stroke="#333" stroke-width="1"/>
<text x="563.20" y="685.20" font-size="11.2" text-anchor="end" fill="#222">0.4</text>
<line x1="563.60" y1="711.50" x2="568.80" y2="711.50" stroke="#333" stroke-width="1"/>
<text x="563.20" y="714.95" font-size="11.2" text-anchor="end" fill="#222">0.3</text>
<line x1="563.60" y1="740.50" x2="568.80" y2="740.50" stroke="#333" stroke-width="1"/>
<text x="563.20" y="744.70" font-size="11.2" text-anchor="end" fill="#222">0.2</text>
<line x1="568.80" y1="740.50" x2="651.60" y2="740.50" stroke="#333" stroke-width="1"/>
<rect x="571.80" y="676.15" width="13.10" height="64.65" fill="#5f5f5f" stroke="#111" stroke-width="1"/>
<rect x="592.20" y="654.73" width="13.10" height="86.07" fill="#9ecbf8" stroke="#111" stroke-width="1"/>
<rect x="612.50" y="693.40" width="13.40" height="47.40" fill="#f2caf0" stroke="#111" stroke-width="1"/>
<rect x="632.80" y="677.34" width="13.30" height="63.46" fill="#40e020" stroke="#111" stroke-width="1"/>
<line x1="578.50" y1="687.25" x2="578.50" y2="664.94" stroke="#333" stroke-width="0.9"/>
<line x1="574.85" y1="664.50" x2="581.85" y2="664.50" stroke="#333" stroke-width="0.9"/>
<line x1="574.85" y1="687.50" x2="581.85" y2="687.50" stroke="#333" stroke-width="0.9"/>
<line x1="598.50" y1="664.94" x2="598.50" y2="642.62" stroke="#333" stroke-width="0.9"/>
<line x1="595.25" y1="642.50" x2="602.25" y2="642.50" stroke="#333" stroke-width="0.9"/>
<line x1="595.25" y1="664.50" x2="602.25" y2="664.50" stroke="#333" stroke-width="0.9"/>
<line x1="619.50" y1="703.61" x2="619.50" y2="681.30" stroke="#333" stroke-width="0.9"/>
<line x1="615.70" y1="681.50" x2="622.70" y2="681.50" stroke="#333" stroke-width="0.9"/>
<line x1="615.70" y1="703.50" x2="622.70" y2="703.50" stroke="#333" stroke-width="0.9"/>
<line x1="639.50" y1="696.17" x2="639.50" y2="658.10" stroke="#333" stroke-width="0.9"/>
<line x1="635.95" y1="658.50" x2="642.95" y2="658.50" stroke="#333" stroke-width="0.9"/>
<line x1="635.95" y1="696.50" x2="642.95" y2="696.50" stroke="#333" stroke-width="0.9"/>
<circle cx="578.35" cy="651.55" r="1.90" fill="#fff" stroke="#222" stroke-width="0.75"/>
<circle cx="575.35" cy="666.42" r="1.90" fill="#fff" stroke="#222" stroke-width="0.75"/>
<circle cx="578.35" cy="666.42" r="1.90" fill="#fff" stroke="#222" stroke-width="0.75"/>
<circle cx="581.35" cy="666.42" r="1.90" fill="#fff" stroke="#222" stroke-width="0.75"/>
<circle cx="574.35" cy="681.30" r="1.90" fill="#fff" stroke="#222" stroke-width="0.75"/>
<circle cx="576.95" cy="681.30" r="1.90" fill="#fff" stroke="#222" stroke-width="0.75"/>
<circle cx="579.75" cy="681.30" r="1.90" fill="#fff" stroke="#222" stroke-width="0.75"/>
<circle cx="582.35" cy="681.30" r="1.90" fill="#fff" stroke="#222" stroke-width="0.75"/>
<circle cx="578.35" cy="696.17" r="1.90" fill="#fff" stroke="#222" stroke-width="0.75"/>
<circle cx="598.75" cy="636.67" r="1.90" fill="#fff" stroke="#222" stroke-width="0.75"/>
<circle cx="594.75" cy="651.55" r="1.90" fill="#fff" stroke="#222" stroke-width="0.75"/>
<circle cx="597.35" cy="651.55" r="1.90" fill="#fff" stroke="#222" stroke-width="0.75"/>
<circle cx="600.15" cy="651.55" r="1.90" fill="#fff" stroke="#222" stroke-width="0.75"/>
<circle cx="602.75" cy="651.55" r="1.90" fill="#fff" stroke="#222" stroke-width="0.75"/>
<circle cx="597.15" cy="666.42" r="1.90" fill="#fff" stroke="#222" stroke-width="0.75"/>
<circle cx="600.35" cy="666.42" r="1.90" fill="#fff" stroke="#222" stroke-width="0.75"/>
<circle cx="615.20" cy="681.30" r="1.90" fill="#fff" stroke="#222" stroke-width="0.75"/>
<circle cx="617.80" cy="681.30" r="1.90" fill="#fff" stroke="#222" stroke-width="0.75"/>
<circle cx="620.60" cy="681.30" r="1.90" fill="#fff" stroke="#222" stroke-width="0.75"/>
<circle cx="623.20" cy="681.30" r="1.90" fill="#fff" stroke="#222" stroke-width="0.75"/>
<circle cx="615.20" cy="696.17" r="1.90" fill="#fff" stroke="#222" stroke-width="0.75"/>
<circle cx="617.80" cy="696.17" r="1.90" fill="#fff" stroke="#222" stroke-width="0.75"/>
<circle cx="620.60" cy="696.17" r="1.90" fill="#fff" stroke="#222" stroke-width="0.75"/>
<circle cx="623.20" cy="696.17" r="1.90" fill="#fff" stroke="#222" stroke-width="0.75"/>
<circle cx="617.60" cy="711.05" r="1.90" fill="#fff" stroke="#222" stroke-width="0.75"/>
<circle cx="620.80" cy="711.05" r="1.90" fill="#fff" stroke="#222" stroke-width="0.75"/>
<circle cx="639.45" cy="636.67" r="1.90" fill="#fff" stroke="#222" stroke-width="0.75"/>
<circle cx="635.45" cy="666.42" r="1.90" fill="#fff" stroke="#222" stroke-width="0.75"/>
<circle cx="638.05" cy="666.42" r="1.90" fill="#fff" stroke="#222" stroke-width="0.75"/>
<circle cx="640.85" cy="666.42" r="1.90" fill="#fff" stroke="#222" stroke-width="0.75"/>
<circle cx="643.45" cy="666.42" r="1.90" fill="#fff" stroke="#222" stroke-width="0.75"/>
<circle cx="635.45" cy="681.30" r="1.90" fill="#fff" stroke="#222" stroke-width="0.75"/>
<circle cx="638.05" cy="681.30" r="1.90" fill="#fff" stroke="#222" stroke-width="0.75"/>
<circle cx="640.85" cy="681.30" r="1.90" fill="#fff" stroke="#222" stroke-width="0.75"/>
<circle cx="643.45" cy="681.30" r="1.90" fill="#fff" stroke="#222" stroke-width="0.75"/>
<circle cx="635.45" cy="696.17" r="1.90" fill="#fff" stroke="#222" stroke-width="0.75"/>
<circle cx="638.05" cy="696.17" r="1.90" fill="#fff" stroke="#222" stroke-width="0.75"/>
<circle cx="640.85" cy="696.17" r="1.90" fill="#fff" stroke="#222" stroke-width="0.75"/>
<circle cx="643.45" cy="696.17" r="1.90" fill="#fff" stroke="#222" stroke-width="0.75"/>
<path d="M576.10 630.90 L576.10 627.90 L598.40 627.90 L598.40 630.90" fill="none" stroke="#444" stroke-width="0.9"/>
<path d="M576.10 622.00 L576.10 616.00 L615.70 616.00 L615.70 622.00" fill="none" stroke="#444" stroke-width="0.9"/>
<path d="M617.00 622.00 L617.00 616.00 L641.70 616.00 L641.70 622.00" fill="none" stroke="#444" stroke-width="0.9"/>
<path d="M582.90 624.00 L582.90 621.35 M582.90 624.00 L585.42 623.18 M582.90 624.00 L584.46 626.14 M582.90 624.00 L581.34 626.14 M582.90 624.00 L580.38 623.18 " stroke="#111" stroke-width="1.30" stroke-linecap="butt" fill="none"/>
<path d="M588.55 624.00 L588.55 621.35 M588.55 624.00 L591.07 623.18 M588.55 624.00 L590.11 626.14 M588.55 624.00 L586.99 626.14 M588.55 624.00 L586.03 623.18 " stroke="#111" stroke-width="1.30" stroke-linecap="butt" fill="none"/>
<path d="M594.20 624.00 L594.20 621.35 M594.20 624.00 L596.72 623.18 M594.20 624.00 L595.76 626.14 M594.20 624.00 L592.64 626.14 M594.20 624.00 L591.68 623.18 " stroke="#111" stroke-width="1.30" stroke-linecap="butt" fill="none"/>
<path d="M594.25 610.30 L594.25 607.65 M594.25 610.30 L596.77 609.48 M594.25 610.30 L595.81 612.44 M594.25 610.30 L592.69 612.44 M594.25 610.30 L591.73 609.48 " stroke="#111" stroke-width="1.30" stroke-linecap="butt" fill="none"/>
<path d="M599.45 610.30 L599.45 607.65 M599.45 610.30 L601.97 609.48 M599.45 610.30 L601.01 612.44 M599.45 610.30 L597.89 612.44 M599.45 610.30 L596.93 609.48 " stroke="#111" stroke-width="1.30" stroke-linecap="butt" fill="none"/>
<path d="M628.80 610.45 L628.80 607.80 M628.80 610.45 L631.32 609.63 M628.80 610.45 L630.36 612.59 M628.80 610.45 L627.24 612.59 M628.80 610.45 L626.28 609.63 " stroke="#111" stroke-width="1.30" stroke-linecap="butt" fill="none"/>
<text x="542.40" y="752.00" font-size="12.1" font-weight="bold" transform="rotate(-90 542.40 752.00)" fill="#111">Spatial frenquency (cpd)</text>
<text x="585.75" y="748.80" font-size="10.5" text-anchor="end" transform="rotate(-45 585.75 748.80)" fill="#111">AL + PBS</text>
<text x="605.55" y="749.60" font-size="10.5" text-anchor="end" transform="rotate(-45 605.55 749.60)" fill="#111">IF + PBS</text>
<text x="629.20" y="747.00" font-size="10.5" text-anchor="end" transform="rotate(-45 629.20 747.00)" fill="#111">AL + NaIO<tspan font-size="6.5">3</tspan></text>
<text x="648.45" y="747.00" font-size="10.5" text-anchor="end" transform="rotate(-45 648.45 747.00)" fill="#111">IF + NaIO<tspan font-size="6.5">3</tspan></text>
</svg></body></html>
